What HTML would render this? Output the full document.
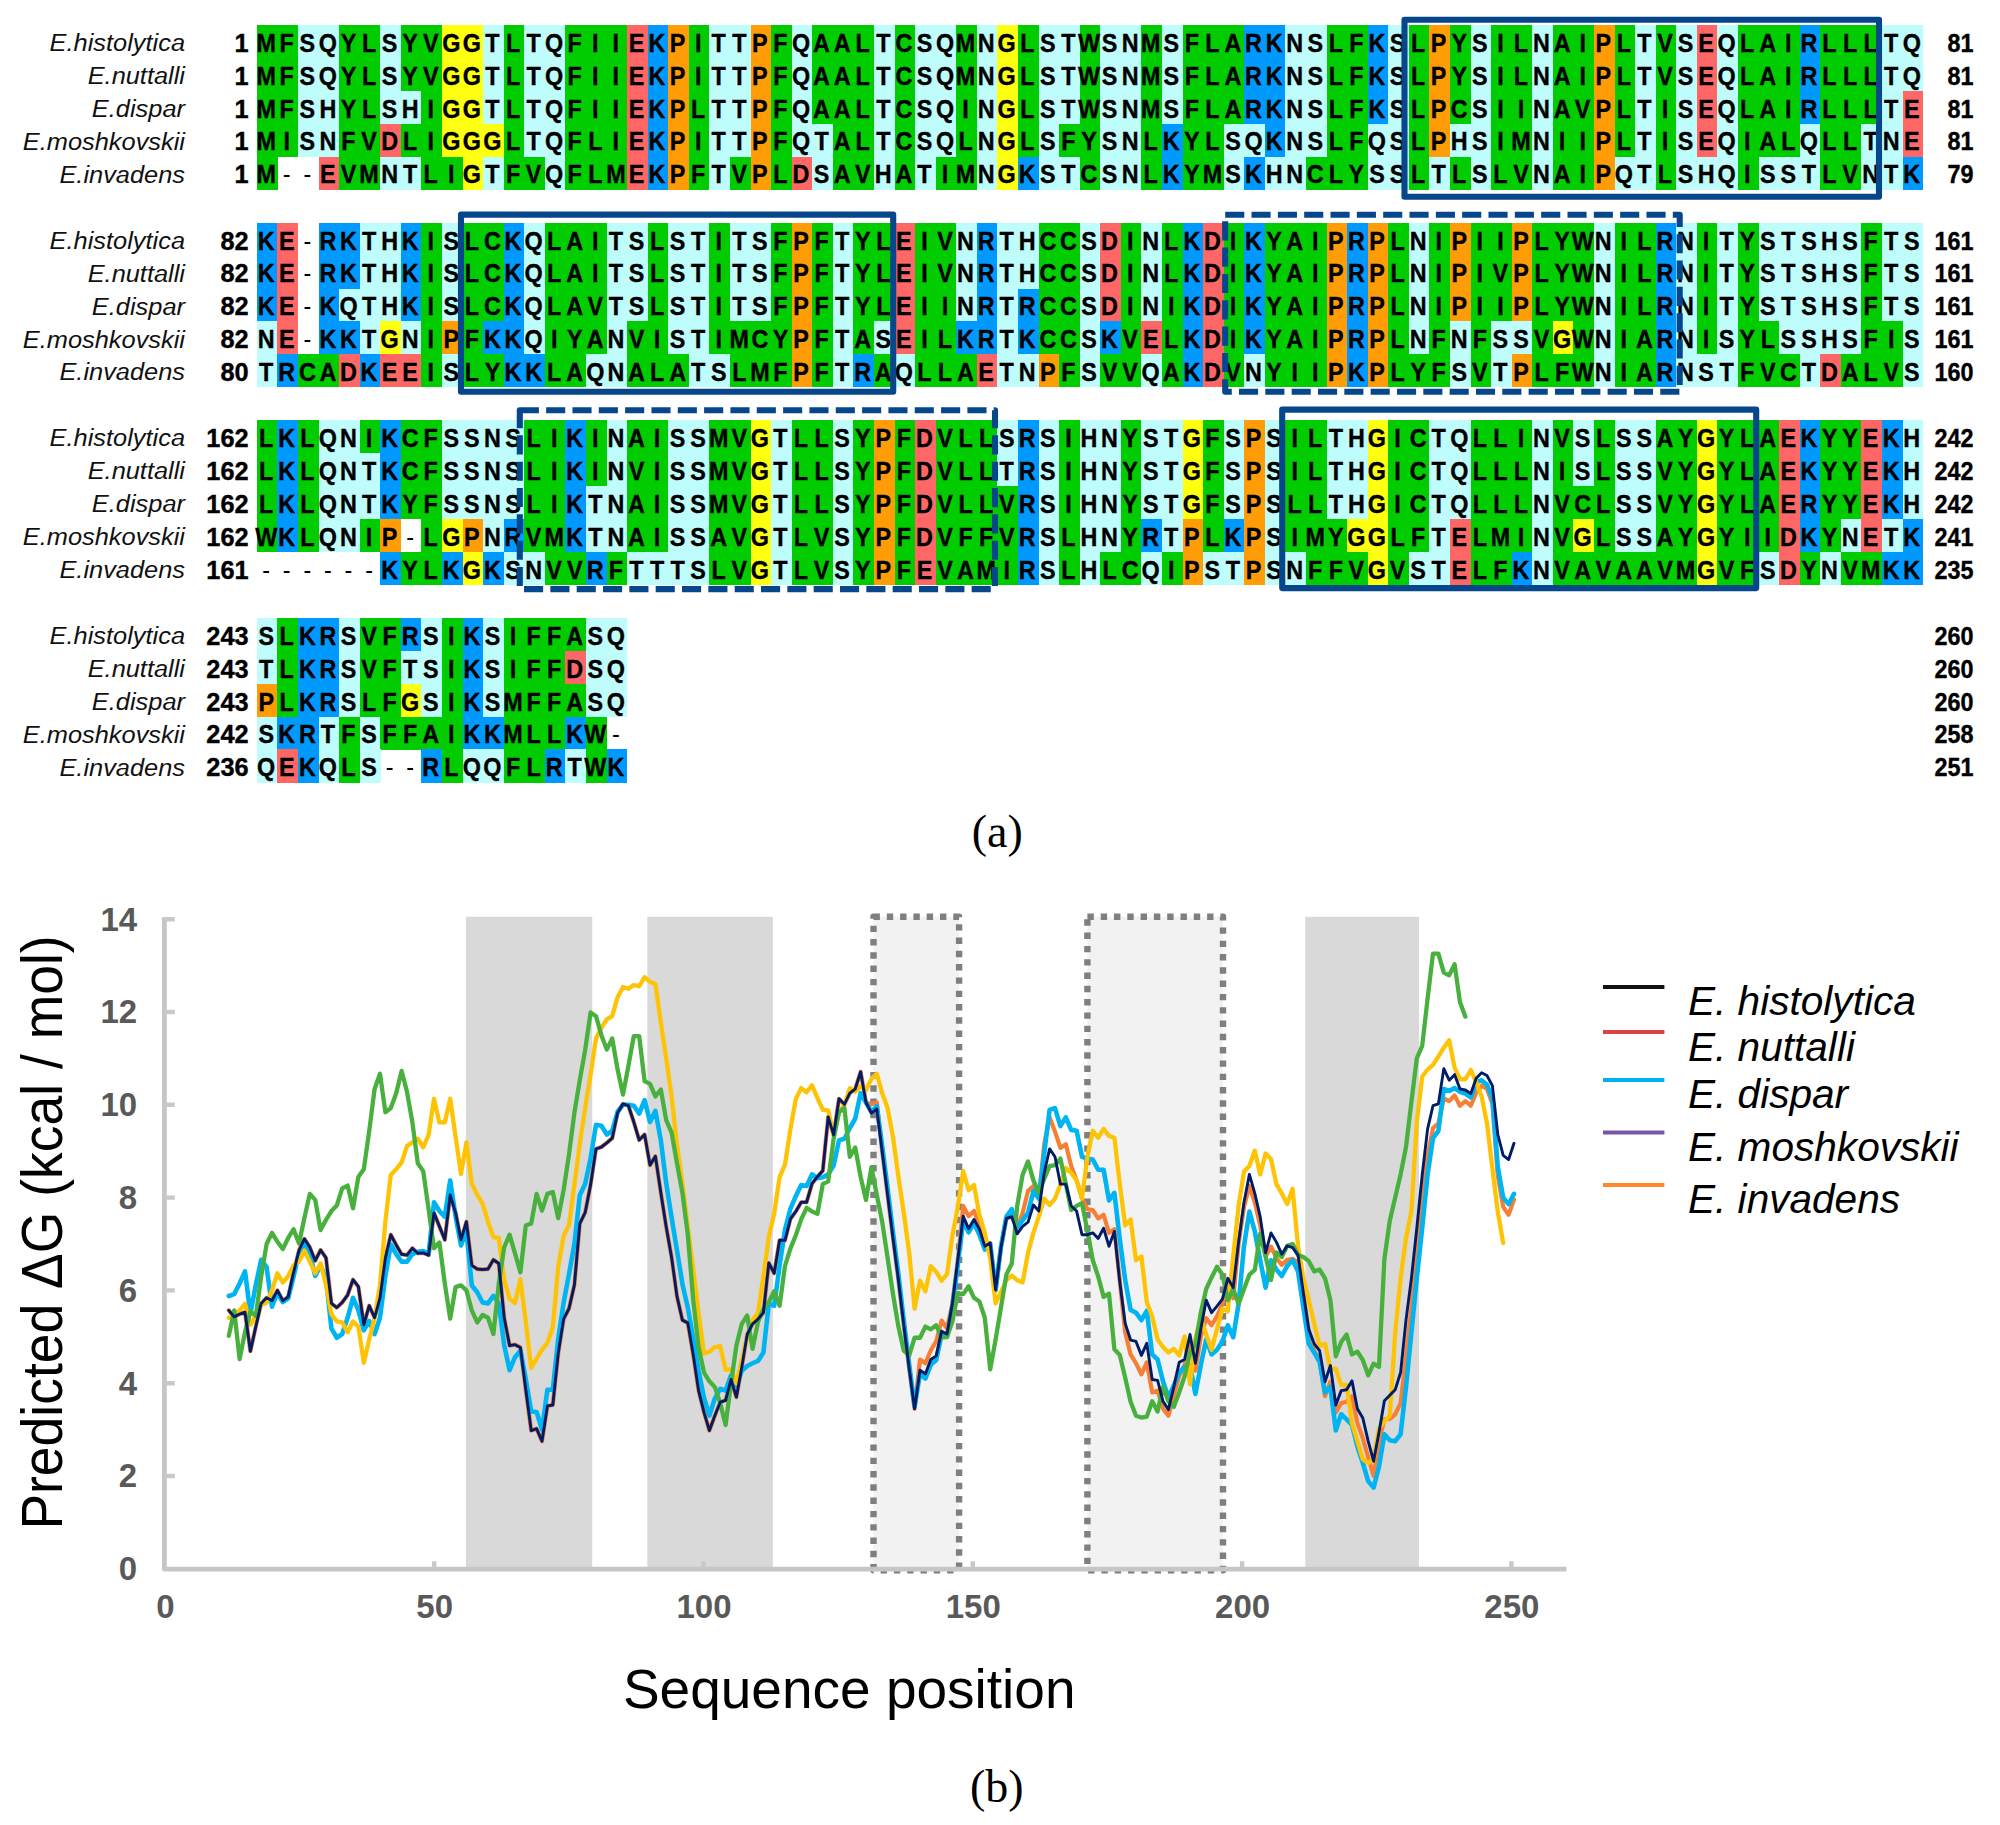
<!DOCTYPE html>
<html lang="en"><head><meta charset="utf-8"><title>Alignment and predicted ΔG</title>
<style>
html,body{margin:0;padding:0;background:#fff}
svg{display:block}
.sq{font-family:"Liberation Sans",Arial,sans-serif;font-weight:700;font-size:26.4px;fill:#000;text-anchor:middle;stroke:#000;stroke-width:.4px}
.gp{font-weight:400;stroke:none}
.nm{font-family:"Liberation Sans",Arial,sans-serif;font-style:italic;font-size:23.4px;fill:#111;text-anchor:end}
.nb{font-family:"Liberation Sans",Arial,sans-serif;font-weight:700;font-size:26.4px;fill:#000;text-anchor:end;stroke:#000;stroke-width:.4px}
.cap{font-family:"Liberation Serif","DejaVu Serif",serif;font-size:46px;fill:#000;text-anchor:middle}
.tk{font-family:"Liberation Sans",Arial,sans-serif;font-weight:700;font-size:33px;fill:#595959}
.ax{font-family:"Liberation Sans",Arial,sans-serif;font-size:55px;fill:#000;text-anchor:middle}
.lg{font-family:"Liberation Sans",Arial,sans-serif;font-style:italic;font-size:40.6px;fill:#000}
.box{fill:none;stroke:#05478a;stroke-width:6.1;stroke-linejoin:round}
.ln{fill:none;stroke-linejoin:round;stroke-linecap:round}
</style></head><body>
<svg width="2000" height="1825" viewBox="0 0 2000 1825">
<rect width="2000" height="1825" fill="#fff"/>
<g shape-rendering="crispEdges">
<rect x="256.9" y="25.1" width="41.44" height="33.17" fill="#00cc00"/>
<rect x="298.04" y="25.1" width="41.44" height="33.17" fill="#bffcfc"/>
<rect x="339.18" y="25.1" width="41.44" height="33.17" fill="#00cc00"/>
<rect x="380.32" y="25.1" width="20.87" height="33.17" fill="#bffcfc"/>
<rect x="400.89" y="25.1" width="41.44" height="33.17" fill="#00cc00"/>
<rect x="442.03" y="25.1" width="41.44" height="33.17" fill="#ffff10"/>
<rect x="483.17" y="25.1" width="20.87" height="33.17" fill="#bffcfc"/>
<rect x="503.74" y="25.1" width="20.87" height="33.17" fill="#00cc00"/>
<rect x="524.31" y="25.1" width="41.44" height="33.17" fill="#bffcfc"/>
<rect x="565.45" y="25.1" width="62.01" height="33.17" fill="#00cc00"/>
<rect x="627.16" y="25.1" width="20.87" height="33.17" fill="#ff6666"/>
<rect x="647.73" y="25.1" width="20.87" height="33.17" fill="#0099ff"/>
<rect x="668.3" y="25.1" width="20.87" height="33.17" fill="#ff9c06"/>
<rect x="688.87" y="25.1" width="20.87" height="33.17" fill="#00cc00"/>
<rect x="709.44" y="25.1" width="41.44" height="33.17" fill="#bffcfc"/>
<rect x="750.58" y="25.1" width="20.87" height="33.17" fill="#ff9c06"/>
<rect x="771.15" y="25.1" width="20.87" height="33.17" fill="#00cc00"/>
<rect x="791.72" y="25.1" width="20.87" height="33.17" fill="#bffcfc"/>
<rect x="812.29" y="25.1" width="62.01" height="33.17" fill="#00cc00"/>
<rect x="874" y="25.1" width="20.87" height="33.17" fill="#bffcfc"/>
<rect x="894.57" y="25.1" width="20.87" height="33.17" fill="#00cc00"/>
<rect x="915.14" y="25.1" width="41.44" height="33.17" fill="#bffcfc"/>
<rect x="956.28" y="25.1" width="20.87" height="33.17" fill="#00cc00"/>
<rect x="976.85" y="25.1" width="20.87" height="33.17" fill="#bffcfc"/>
<rect x="997.42" y="25.1" width="20.87" height="33.17" fill="#ffff10"/>
<rect x="1017.99" y="25.1" width="20.87" height="33.17" fill="#00cc00"/>
<rect x="1038.56" y="25.1" width="41.44" height="33.17" fill="#bffcfc"/>
<rect x="1079.7" y="25.1" width="20.87" height="33.17" fill="#00cc00"/>
<rect x="1100.27" y="25.1" width="41.44" height="33.17" fill="#bffcfc"/>
<rect x="1141.41" y="25.1" width="20.87" height="33.17" fill="#00cc00"/>
<rect x="1161.98" y="25.1" width="20.87" height="33.17" fill="#bffcfc"/>
<rect x="1182.55" y="25.1" width="62.01" height="33.17" fill="#00cc00"/>
<rect x="1244.26" y="25.1" width="41.44" height="33.17" fill="#0099ff"/>
<rect x="1285.4" y="25.1" width="41.44" height="33.17" fill="#bffcfc"/>
<rect x="1326.54" y="25.1" width="41.44" height="33.17" fill="#00cc00"/>
<rect x="1367.68" y="25.1" width="20.87" height="33.17" fill="#0099ff"/>
<rect x="1388.25" y="25.1" width="20.87" height="33.17" fill="#bffcfc"/>
<rect x="1408.82" y="25.1" width="20.87" height="33.17" fill="#00cc00"/>
<rect x="1429.39" y="25.1" width="20.87" height="33.17" fill="#ff9c06"/>
<rect x="1449.96" y="25.1" width="20.87" height="33.17" fill="#00cc00"/>
<rect x="1470.53" y="25.1" width="20.87" height="33.17" fill="#bffcfc"/>
<rect x="1491.1" y="25.1" width="41.44" height="33.17" fill="#00cc00"/>
<rect x="1532.24" y="25.1" width="20.87" height="33.17" fill="#bffcfc"/>
<rect x="1552.81" y="25.1" width="41.44" height="33.17" fill="#00cc00"/>
<rect x="1593.95" y="25.1" width="20.87" height="33.17" fill="#ff9c06"/>
<rect x="1614.52" y="25.1" width="20.87" height="33.17" fill="#00cc00"/>
<rect x="1635.09" y="25.1" width="20.87" height="33.17" fill="#bffcfc"/>
<rect x="1655.66" y="25.1" width="20.87" height="33.17" fill="#00cc00"/>
<rect x="1676.23" y="25.1" width="20.87" height="33.17" fill="#bffcfc"/>
<rect x="1696.8" y="25.1" width="20.87" height="33.17" fill="#ff6666"/>
<rect x="1717.37" y="25.1" width="20.87" height="33.17" fill="#bffcfc"/>
<rect x="1737.94" y="25.1" width="62.01" height="33.17" fill="#00cc00"/>
<rect x="1799.65" y="25.1" width="20.87" height="33.17" fill="#0099ff"/>
<rect x="1820.22" y="25.1" width="62.01" height="33.17" fill="#00cc00"/>
<rect x="1881.93" y="25.1" width="41.44" height="33.17" fill="#bffcfc"/>
<rect x="256.9" y="57.97" width="41.44" height="33.17" fill="#00cc00"/>
<rect x="298.04" y="57.97" width="41.44" height="33.17" fill="#bffcfc"/>
<rect x="339.18" y="57.97" width="41.44" height="33.17" fill="#00cc00"/>
<rect x="380.32" y="57.97" width="20.87" height="33.17" fill="#bffcfc"/>
<rect x="400.89" y="57.97" width="41.44" height="33.17" fill="#00cc00"/>
<rect x="442.03" y="57.97" width="41.44" height="33.17" fill="#ffff10"/>
<rect x="483.17" y="57.97" width="20.87" height="33.17" fill="#bffcfc"/>
<rect x="503.74" y="57.97" width="20.87" height="33.17" fill="#00cc00"/>
<rect x="524.31" y="57.97" width="41.44" height="33.17" fill="#bffcfc"/>
<rect x="565.45" y="57.97" width="62.01" height="33.17" fill="#00cc00"/>
<rect x="627.16" y="57.97" width="20.87" height="33.17" fill="#ff6666"/>
<rect x="647.73" y="57.97" width="20.87" height="33.17" fill="#0099ff"/>
<rect x="668.3" y="57.97" width="20.87" height="33.17" fill="#ff9c06"/>
<rect x="688.87" y="57.97" width="20.87" height="33.17" fill="#00cc00"/>
<rect x="709.44" y="57.97" width="41.44" height="33.17" fill="#bffcfc"/>
<rect x="750.58" y="57.97" width="20.87" height="33.17" fill="#ff9c06"/>
<rect x="771.15" y="57.97" width="20.87" height="33.17" fill="#00cc00"/>
<rect x="791.72" y="57.97" width="20.87" height="33.17" fill="#bffcfc"/>
<rect x="812.29" y="57.97" width="62.01" height="33.17" fill="#00cc00"/>
<rect x="874" y="57.97" width="20.87" height="33.17" fill="#bffcfc"/>
<rect x="894.57" y="57.97" width="20.87" height="33.17" fill="#00cc00"/>
<rect x="915.14" y="57.97" width="41.44" height="33.17" fill="#bffcfc"/>
<rect x="956.28" y="57.97" width="20.87" height="33.17" fill="#00cc00"/>
<rect x="976.85" y="57.97" width="20.87" height="33.17" fill="#bffcfc"/>
<rect x="997.42" y="57.97" width="20.87" height="33.17" fill="#ffff10"/>
<rect x="1017.99" y="57.97" width="20.87" height="33.17" fill="#00cc00"/>
<rect x="1038.56" y="57.97" width="41.44" height="33.17" fill="#bffcfc"/>
<rect x="1079.7" y="57.97" width="20.87" height="33.17" fill="#00cc00"/>
<rect x="1100.27" y="57.97" width="41.44" height="33.17" fill="#bffcfc"/>
<rect x="1141.41" y="57.97" width="20.87" height="33.17" fill="#00cc00"/>
<rect x="1161.98" y="57.97" width="20.87" height="33.17" fill="#bffcfc"/>
<rect x="1182.55" y="57.97" width="62.01" height="33.17" fill="#00cc00"/>
<rect x="1244.26" y="57.97" width="41.44" height="33.17" fill="#0099ff"/>
<rect x="1285.4" y="57.97" width="41.44" height="33.17" fill="#bffcfc"/>
<rect x="1326.54" y="57.97" width="41.44" height="33.17" fill="#00cc00"/>
<rect x="1367.68" y="57.97" width="20.87" height="33.17" fill="#0099ff"/>
<rect x="1388.25" y="57.97" width="20.87" height="33.17" fill="#bffcfc"/>
<rect x="1408.82" y="57.97" width="20.87" height="33.17" fill="#00cc00"/>
<rect x="1429.39" y="57.97" width="20.87" height="33.17" fill="#ff9c06"/>
<rect x="1449.96" y="57.97" width="20.87" height="33.17" fill="#00cc00"/>
<rect x="1470.53" y="57.97" width="20.87" height="33.17" fill="#bffcfc"/>
<rect x="1491.1" y="57.97" width="41.44" height="33.17" fill="#00cc00"/>
<rect x="1532.24" y="57.97" width="20.87" height="33.17" fill="#bffcfc"/>
<rect x="1552.81" y="57.97" width="41.44" height="33.17" fill="#00cc00"/>
<rect x="1593.95" y="57.97" width="20.87" height="33.17" fill="#ff9c06"/>
<rect x="1614.52" y="57.97" width="20.87" height="33.17" fill="#00cc00"/>
<rect x="1635.09" y="57.97" width="20.87" height="33.17" fill="#bffcfc"/>
<rect x="1655.66" y="57.97" width="20.87" height="33.17" fill="#00cc00"/>
<rect x="1676.23" y="57.97" width="20.87" height="33.17" fill="#bffcfc"/>
<rect x="1696.8" y="57.97" width="20.87" height="33.17" fill="#ff6666"/>
<rect x="1717.37" y="57.97" width="20.87" height="33.17" fill="#bffcfc"/>
<rect x="1737.94" y="57.97" width="62.01" height="33.17" fill="#00cc00"/>
<rect x="1799.65" y="57.97" width="20.87" height="33.17" fill="#0099ff"/>
<rect x="1820.22" y="57.97" width="62.01" height="33.17" fill="#00cc00"/>
<rect x="1881.93" y="57.97" width="41.44" height="33.17" fill="#bffcfc"/>
<rect x="256.9" y="90.84" width="41.44" height="33.17" fill="#00cc00"/>
<rect x="298.04" y="90.84" width="41.44" height="33.17" fill="#bffcfc"/>
<rect x="339.18" y="90.84" width="41.44" height="33.17" fill="#00cc00"/>
<rect x="380.32" y="90.84" width="41.44" height="33.17" fill="#bffcfc"/>
<rect x="421.46" y="90.84" width="20.87" height="33.17" fill="#00cc00"/>
<rect x="442.03" y="90.84" width="41.44" height="33.17" fill="#ffff10"/>
<rect x="483.17" y="90.84" width="20.87" height="33.17" fill="#bffcfc"/>
<rect x="503.74" y="90.84" width="20.87" height="33.17" fill="#00cc00"/>
<rect x="524.31" y="90.84" width="41.44" height="33.17" fill="#bffcfc"/>
<rect x="565.45" y="90.84" width="62.01" height="33.17" fill="#00cc00"/>
<rect x="627.16" y="90.84" width="20.87" height="33.17" fill="#ff6666"/>
<rect x="647.73" y="90.84" width="20.87" height="33.17" fill="#0099ff"/>
<rect x="668.3" y="90.84" width="20.87" height="33.17" fill="#ff9c06"/>
<rect x="688.87" y="90.84" width="20.87" height="33.17" fill="#00cc00"/>
<rect x="709.44" y="90.84" width="41.44" height="33.17" fill="#bffcfc"/>
<rect x="750.58" y="90.84" width="20.87" height="33.17" fill="#ff9c06"/>
<rect x="771.15" y="90.84" width="20.87" height="33.17" fill="#00cc00"/>
<rect x="791.72" y="90.84" width="20.87" height="33.17" fill="#bffcfc"/>
<rect x="812.29" y="90.84" width="62.01" height="33.17" fill="#00cc00"/>
<rect x="874" y="90.84" width="20.87" height="33.17" fill="#bffcfc"/>
<rect x="894.57" y="90.84" width="20.87" height="33.17" fill="#00cc00"/>
<rect x="915.14" y="90.84" width="41.44" height="33.17" fill="#bffcfc"/>
<rect x="956.28" y="90.84" width="20.87" height="33.17" fill="#00cc00"/>
<rect x="976.85" y="90.84" width="20.87" height="33.17" fill="#bffcfc"/>
<rect x="997.42" y="90.84" width="20.87" height="33.17" fill="#ffff10"/>
<rect x="1017.99" y="90.84" width="20.87" height="33.17" fill="#00cc00"/>
<rect x="1038.56" y="90.84" width="41.44" height="33.17" fill="#bffcfc"/>
<rect x="1079.7" y="90.84" width="20.87" height="33.17" fill="#00cc00"/>
<rect x="1100.27" y="90.84" width="41.44" height="33.17" fill="#bffcfc"/>
<rect x="1141.41" y="90.84" width="20.87" height="33.17" fill="#00cc00"/>
<rect x="1161.98" y="90.84" width="20.87" height="33.17" fill="#bffcfc"/>
<rect x="1182.55" y="90.84" width="62.01" height="33.17" fill="#00cc00"/>
<rect x="1244.26" y="90.84" width="41.44" height="33.17" fill="#0099ff"/>
<rect x="1285.4" y="90.84" width="41.44" height="33.17" fill="#bffcfc"/>
<rect x="1326.54" y="90.84" width="41.44" height="33.17" fill="#00cc00"/>
<rect x="1367.68" y="90.84" width="20.87" height="33.17" fill="#0099ff"/>
<rect x="1388.25" y="90.84" width="20.87" height="33.17" fill="#bffcfc"/>
<rect x="1408.82" y="90.84" width="20.87" height="33.17" fill="#00cc00"/>
<rect x="1429.39" y="90.84" width="20.87" height="33.17" fill="#ff9c06"/>
<rect x="1449.96" y="90.84" width="20.87" height="33.17" fill="#00cc00"/>
<rect x="1470.53" y="90.84" width="20.87" height="33.17" fill="#bffcfc"/>
<rect x="1491.1" y="90.84" width="41.44" height="33.17" fill="#00cc00"/>
<rect x="1532.24" y="90.84" width="20.87" height="33.17" fill="#bffcfc"/>
<rect x="1552.81" y="90.84" width="41.44" height="33.17" fill="#00cc00"/>
<rect x="1593.95" y="90.84" width="20.87" height="33.17" fill="#ff9c06"/>
<rect x="1614.52" y="90.84" width="20.87" height="33.17" fill="#00cc00"/>
<rect x="1635.09" y="90.84" width="20.87" height="33.17" fill="#bffcfc"/>
<rect x="1655.66" y="90.84" width="20.87" height="33.17" fill="#00cc00"/>
<rect x="1676.23" y="90.84" width="20.87" height="33.17" fill="#bffcfc"/>
<rect x="1696.8" y="90.84" width="20.87" height="33.17" fill="#ff6666"/>
<rect x="1717.37" y="90.84" width="20.87" height="33.17" fill="#bffcfc"/>
<rect x="1737.94" y="90.84" width="62.01" height="33.17" fill="#00cc00"/>
<rect x="1799.65" y="90.84" width="20.87" height="33.17" fill="#0099ff"/>
<rect x="1820.22" y="90.84" width="62.01" height="33.17" fill="#00cc00"/>
<rect x="1881.93" y="90.84" width="20.87" height="33.17" fill="#bffcfc"/>
<rect x="1902.5" y="90.84" width="20.87" height="33.17" fill="#ff6666"/>
<rect x="256.9" y="123.71" width="41.44" height="33.17" fill="#00cc00"/>
<rect x="298.04" y="123.71" width="41.44" height="33.17" fill="#bffcfc"/>
<rect x="339.18" y="123.71" width="41.44" height="33.17" fill="#00cc00"/>
<rect x="380.32" y="123.71" width="20.87" height="33.17" fill="#ff6666"/>
<rect x="400.89" y="123.71" width="41.44" height="33.17" fill="#00cc00"/>
<rect x="442.03" y="123.71" width="62.01" height="33.17" fill="#ffff10"/>
<rect x="503.74" y="123.71" width="20.87" height="33.17" fill="#00cc00"/>
<rect x="524.31" y="123.71" width="41.44" height="33.17" fill="#bffcfc"/>
<rect x="565.45" y="123.71" width="62.01" height="33.17" fill="#00cc00"/>
<rect x="627.16" y="123.71" width="20.87" height="33.17" fill="#ff6666"/>
<rect x="647.73" y="123.71" width="20.87" height="33.17" fill="#0099ff"/>
<rect x="668.3" y="123.71" width="20.87" height="33.17" fill="#ff9c06"/>
<rect x="688.87" y="123.71" width="20.87" height="33.17" fill="#00cc00"/>
<rect x="709.44" y="123.71" width="41.44" height="33.17" fill="#bffcfc"/>
<rect x="750.58" y="123.71" width="20.87" height="33.17" fill="#ff9c06"/>
<rect x="771.15" y="123.71" width="20.87" height="33.17" fill="#00cc00"/>
<rect x="791.72" y="123.71" width="41.44" height="33.17" fill="#bffcfc"/>
<rect x="832.86" y="123.71" width="41.44" height="33.17" fill="#00cc00"/>
<rect x="874" y="123.71" width="20.87" height="33.17" fill="#bffcfc"/>
<rect x="894.57" y="123.71" width="20.87" height="33.17" fill="#00cc00"/>
<rect x="915.14" y="123.71" width="41.44" height="33.17" fill="#bffcfc"/>
<rect x="956.28" y="123.71" width="20.87" height="33.17" fill="#00cc00"/>
<rect x="976.85" y="123.71" width="20.87" height="33.17" fill="#bffcfc"/>
<rect x="997.42" y="123.71" width="20.87" height="33.17" fill="#ffff10"/>
<rect x="1017.99" y="123.71" width="20.87" height="33.17" fill="#00cc00"/>
<rect x="1038.56" y="123.71" width="20.87" height="33.17" fill="#bffcfc"/>
<rect x="1059.13" y="123.71" width="41.44" height="33.17" fill="#00cc00"/>
<rect x="1100.27" y="123.71" width="41.44" height="33.17" fill="#bffcfc"/>
<rect x="1141.41" y="123.71" width="20.87" height="33.17" fill="#00cc00"/>
<rect x="1161.98" y="123.71" width="20.87" height="33.17" fill="#0099ff"/>
<rect x="1182.55" y="123.71" width="41.44" height="33.17" fill="#00cc00"/>
<rect x="1223.69" y="123.71" width="41.44" height="33.17" fill="#bffcfc"/>
<rect x="1264.83" y="123.71" width="20.87" height="33.17" fill="#0099ff"/>
<rect x="1285.4" y="123.71" width="41.44" height="33.17" fill="#bffcfc"/>
<rect x="1326.54" y="123.71" width="41.44" height="33.17" fill="#00cc00"/>
<rect x="1367.68" y="123.71" width="41.44" height="33.17" fill="#bffcfc"/>
<rect x="1408.82" y="123.71" width="20.87" height="33.17" fill="#00cc00"/>
<rect x="1429.39" y="123.71" width="20.87" height="33.17" fill="#ff9c06"/>
<rect x="1449.96" y="123.71" width="41.44" height="33.17" fill="#bffcfc"/>
<rect x="1491.1" y="123.71" width="41.44" height="33.17" fill="#00cc00"/>
<rect x="1532.24" y="123.71" width="20.87" height="33.17" fill="#bffcfc"/>
<rect x="1552.81" y="123.71" width="41.44" height="33.17" fill="#00cc00"/>
<rect x="1593.95" y="123.71" width="20.87" height="33.17" fill="#ff9c06"/>
<rect x="1614.52" y="123.71" width="20.87" height="33.17" fill="#00cc00"/>
<rect x="1635.09" y="123.71" width="20.87" height="33.17" fill="#bffcfc"/>
<rect x="1655.66" y="123.71" width="20.87" height="33.17" fill="#00cc00"/>
<rect x="1676.23" y="123.71" width="20.87" height="33.17" fill="#bffcfc"/>
<rect x="1696.8" y="123.71" width="20.87" height="33.17" fill="#ff6666"/>
<rect x="1717.37" y="123.71" width="20.87" height="33.17" fill="#bffcfc"/>
<rect x="1737.94" y="123.71" width="62.01" height="33.17" fill="#00cc00"/>
<rect x="1799.65" y="123.71" width="20.87" height="33.17" fill="#bffcfc"/>
<rect x="1820.22" y="123.71" width="41.44" height="33.17" fill="#00cc00"/>
<rect x="1861.36" y="123.71" width="41.44" height="33.17" fill="#bffcfc"/>
<rect x="1902.5" y="123.71" width="20.87" height="33.17" fill="#ff6666"/>
<rect x="256.9" y="156.58" width="20.87" height="33.17" fill="#00cc00"/>
<rect x="318.61" y="156.58" width="20.87" height="33.17" fill="#ff6666"/>
<rect x="339.18" y="156.58" width="41.44" height="33.17" fill="#00cc00"/>
<rect x="380.32" y="156.58" width="41.44" height="33.17" fill="#bffcfc"/>
<rect x="421.46" y="156.58" width="41.44" height="33.17" fill="#00cc00"/>
<rect x="462.6" y="156.58" width="20.87" height="33.17" fill="#ffff10"/>
<rect x="483.17" y="156.58" width="20.87" height="33.17" fill="#bffcfc"/>
<rect x="503.74" y="156.58" width="41.44" height="33.17" fill="#00cc00"/>
<rect x="544.88" y="156.58" width="20.87" height="33.17" fill="#bffcfc"/>
<rect x="565.45" y="156.58" width="62.01" height="33.17" fill="#00cc00"/>
<rect x="627.16" y="156.58" width="20.87" height="33.17" fill="#ff6666"/>
<rect x="647.73" y="156.58" width="20.87" height="33.17" fill="#0099ff"/>
<rect x="668.3" y="156.58" width="20.87" height="33.17" fill="#ff9c06"/>
<rect x="688.87" y="156.58" width="20.87" height="33.17" fill="#00cc00"/>
<rect x="709.44" y="156.58" width="20.87" height="33.17" fill="#bffcfc"/>
<rect x="730.01" y="156.58" width="20.87" height="33.17" fill="#00cc00"/>
<rect x="750.58" y="156.58" width="20.87" height="33.17" fill="#ff9c06"/>
<rect x="771.15" y="156.58" width="20.87" height="33.17" fill="#00cc00"/>
<rect x="791.72" y="156.58" width="20.87" height="33.17" fill="#ff6666"/>
<rect x="812.29" y="156.58" width="20.87" height="33.17" fill="#bffcfc"/>
<rect x="832.86" y="156.58" width="41.44" height="33.17" fill="#00cc00"/>
<rect x="874" y="156.58" width="20.87" height="33.17" fill="#bffcfc"/>
<rect x="894.57" y="156.58" width="20.87" height="33.17" fill="#00cc00"/>
<rect x="915.14" y="156.58" width="20.87" height="33.17" fill="#bffcfc"/>
<rect x="935.71" y="156.58" width="41.44" height="33.17" fill="#00cc00"/>
<rect x="976.85" y="156.58" width="20.87" height="33.17" fill="#bffcfc"/>
<rect x="997.42" y="156.58" width="20.87" height="33.17" fill="#ffff10"/>
<rect x="1017.99" y="156.58" width="20.87" height="33.17" fill="#0099ff"/>
<rect x="1038.56" y="156.58" width="41.44" height="33.17" fill="#bffcfc"/>
<rect x="1079.7" y="156.58" width="20.87" height="33.17" fill="#00cc00"/>
<rect x="1100.27" y="156.58" width="41.44" height="33.17" fill="#bffcfc"/>
<rect x="1141.41" y="156.58" width="20.87" height="33.17" fill="#00cc00"/>
<rect x="1161.98" y="156.58" width="20.87" height="33.17" fill="#0099ff"/>
<rect x="1182.55" y="156.58" width="41.44" height="33.17" fill="#00cc00"/>
<rect x="1223.69" y="156.58" width="20.87" height="33.17" fill="#bffcfc"/>
<rect x="1244.26" y="156.58" width="20.87" height="33.17" fill="#0099ff"/>
<rect x="1264.83" y="156.58" width="41.44" height="33.17" fill="#bffcfc"/>
<rect x="1305.97" y="156.58" width="62.01" height="33.17" fill="#00cc00"/>
<rect x="1367.68" y="156.58" width="41.44" height="33.17" fill="#bffcfc"/>
<rect x="1408.82" y="156.58" width="20.87" height="33.17" fill="#00cc00"/>
<rect x="1429.39" y="156.58" width="20.87" height="33.17" fill="#bffcfc"/>
<rect x="1449.96" y="156.58" width="20.87" height="33.17" fill="#00cc00"/>
<rect x="1470.53" y="156.58" width="20.87" height="33.17" fill="#bffcfc"/>
<rect x="1491.1" y="156.58" width="41.44" height="33.17" fill="#00cc00"/>
<rect x="1532.24" y="156.58" width="20.87" height="33.17" fill="#bffcfc"/>
<rect x="1552.81" y="156.58" width="41.44" height="33.17" fill="#00cc00"/>
<rect x="1593.95" y="156.58" width="20.87" height="33.17" fill="#ff9c06"/>
<rect x="1614.52" y="156.58" width="41.44" height="33.17" fill="#bffcfc"/>
<rect x="1655.66" y="156.58" width="20.87" height="33.17" fill="#00cc00"/>
<rect x="1676.23" y="156.58" width="62.01" height="33.17" fill="#bffcfc"/>
<rect x="1737.94" y="156.58" width="20.87" height="33.17" fill="#00cc00"/>
<rect x="1758.51" y="156.58" width="62.01" height="33.17" fill="#bffcfc"/>
<rect x="1820.22" y="156.58" width="41.44" height="33.17" fill="#00cc00"/>
<rect x="1861.36" y="156.58" width="41.44" height="33.17" fill="#bffcfc"/>
<rect x="1902.5" y="156.58" width="20.87" height="33.17" fill="#0099ff"/>
</g><g>
<text class="nm" x="185" y="51.2" transform="translate(185 0) scale(1.085 1) translate(-185 0)">E.histolytica</text>
<text class="nb" x="248.6" y="51.9" transform="translate(248.6 0) scale(0.96 1) translate(-248.6 0)">1</text>
<text class="sq" transform="scale(0.885 1)" y="51.9" x="300.77 324.02 347.26 370.5 393.75 416.99 440.23 463.47 486.72 509.96 533.2 556.45 579.69 602.93 626.18 649.42 672.66 695.9 719.15 742.39 765.63 788.88 812.12 835.36 858.6 881.85 905.09 928.33 951.58 974.82 998.06 1021.31 1044.55 1067.79 1091.03 1114.28 1137.52 1160.76 1184.01 1207.25 1230.49 1253.73 1276.98 1300.22 1323.46 1346.71 1369.95 1393.19 1416.44 1439.68 1462.92 1486.16 1509.41 1532.65 1555.89 1579.14 1602.38 1625.62 1648.86 1672.11 1695.35 1718.59 1741.84 1765.08 1788.32 1811.56 1834.81 1858.05 1881.29 1904.54 1927.78 1951.02 1974.27 1997.51 2020.75 2043.99 2067.24 2090.48 2113.72 2136.97 2160.21">MFSQYLSYVGGTLTQFIIEKPITTPFQAALTCSQMNGLSTWSNMSFLARKNSLFKSLPYSILNAIPLTVSEQLAIRLLLTQ</text>
<text class="nb" x="1973.5" y="51.9" transform="translate(1973.5 0) scale(0.885 1) translate(-1973.5 0)">81</text>
<text class="nm" x="185" y="84.07" transform="translate(185 0) scale(1.085 1) translate(-185 0)">E.nuttalli</text>
<text class="nb" x="248.6" y="84.77" transform="translate(248.6 0) scale(0.96 1) translate(-248.6 0)">1</text>
<text class="sq" transform="scale(0.885 1)" y="84.77" x="300.77 324.02 347.26 370.5 393.75 416.99 440.23 463.47 486.72 509.96 533.2 556.45 579.69 602.93 626.18 649.42 672.66 695.9 719.15 742.39 765.63 788.88 812.12 835.36 858.6 881.85 905.09 928.33 951.58 974.82 998.06 1021.31 1044.55 1067.79 1091.03 1114.28 1137.52 1160.76 1184.01 1207.25 1230.49 1253.73 1276.98 1300.22 1323.46 1346.71 1369.95 1393.19 1416.44 1439.68 1462.92 1486.16 1509.41 1532.65 1555.89 1579.14 1602.38 1625.62 1648.86 1672.11 1695.35 1718.59 1741.84 1765.08 1788.32 1811.56 1834.81 1858.05 1881.29 1904.54 1927.78 1951.02 1974.27 1997.51 2020.75 2043.99 2067.24 2090.48 2113.72 2136.97 2160.21">MFSQYLSYVGGTLTQFIIEKPITTPFQAALTCSQMNGLSTWSNMSFLARKNSLFKSLPYSILNAIPLTVSEQLAIRLLLTQ</text>
<text class="nb" x="1973.5" y="84.77" transform="translate(1973.5 0) scale(0.885 1) translate(-1973.5 0)">81</text>
<text class="nm" x="185" y="116.94" transform="translate(185 0) scale(1.085 1) translate(-185 0)">E.dispar</text>
<text class="nb" x="248.6" y="117.64" transform="translate(248.6 0) scale(0.96 1) translate(-248.6 0)">1</text>
<text class="sq" transform="scale(0.885 1)" y="117.64" x="300.77 324.02 347.26 370.5 393.75 416.99 440.23 463.47 486.72 509.96 533.2 556.45 579.69 602.93 626.18 649.42 672.66 695.9 719.15 742.39 765.63 788.88 812.12 835.36 858.6 881.85 905.09 928.33 951.58 974.82 998.06 1021.31 1044.55 1067.79 1091.03 1114.28 1137.52 1160.76 1184.01 1207.25 1230.49 1253.73 1276.98 1300.22 1323.46 1346.71 1369.95 1393.19 1416.44 1439.68 1462.92 1486.16 1509.41 1532.65 1555.89 1579.14 1602.38 1625.62 1648.86 1672.11 1695.35 1718.59 1741.84 1765.08 1788.32 1811.56 1834.81 1858.05 1881.29 1904.54 1927.78 1951.02 1974.27 1997.51 2020.75 2043.99 2067.24 2090.48 2113.72 2136.97 2160.21">MFSHYLSHIGGTLTQFIIEKPLTTPFQAALTCSQINGLSTWSNMSFLARKNSLFKSLPCSIINAVPLTISEQLAIRLLLTE</text>
<text class="nb" x="1973.5" y="117.64" transform="translate(1973.5 0) scale(0.885 1) translate(-1973.5 0)">81</text>
<text class="nm" x="185" y="149.81" transform="translate(185 0) scale(1.085 1) translate(-185 0)">E.moshkovskii</text>
<text class="nb" x="248.6" y="150.51" transform="translate(248.6 0) scale(0.96 1) translate(-248.6 0)">1</text>
<text class="sq" transform="scale(0.885 1)" y="150.51" x="300.77 324.02 347.26 370.5 393.75 416.99 440.23 463.47 486.72 509.96 533.2 556.45 579.69 602.93 626.18 649.42 672.66 695.9 719.15 742.39 765.63 788.88 812.12 835.36 858.6 881.85 905.09 928.33 951.58 974.82 998.06 1021.31 1044.55 1067.79 1091.03 1114.28 1137.52 1160.76 1184.01 1207.25 1230.49 1253.73 1276.98 1300.22 1323.46 1346.71 1369.95 1393.19 1416.44 1439.68 1462.92 1486.16 1509.41 1532.65 1555.89 1579.14 1602.38 1625.62 1648.86 1672.11 1695.35 1718.59 1741.84 1765.08 1788.32 1811.56 1834.81 1858.05 1881.29 1904.54 1927.78 1951.02 1974.27 1997.51 2020.75 2043.99 2067.24 2090.48 2113.72 2136.97 2160.21">MISNFVDLIGGGLTQFLIEKPITTPFQTALTCSQLNGLSFYSNLKYLSQKNSLFQSLPHSIMNIIPLTISEQIALQLLTNE</text>
<text class="nb" x="1973.5" y="150.51" transform="translate(1973.5 0) scale(0.885 1) translate(-1973.5 0)">81</text>
<text class="nm" x="185" y="182.68" transform="translate(185 0) scale(1.085 1) translate(-185 0)">E.invadens</text>
<text class="nb" x="248.6" y="183.38" transform="translate(248.6 0) scale(0.96 1) translate(-248.6 0)">1</text>
<text class="sq" transform="scale(0.885 1)" y="183.38" x="300.77 324.02 347.26 370.5 393.75 416.99 440.23 463.47 486.72 509.96 533.2 556.45 579.69 602.93 626.18 649.42 672.66 695.9 719.15 742.39 765.63 788.88 812.12 835.36 858.6 881.85 905.09 928.33 951.58 974.82 998.06 1021.31 1044.55 1067.79 1091.03 1114.28 1137.52 1160.76 1184.01 1207.25 1230.49 1253.73 1276.98 1300.22 1323.46 1346.71 1369.95 1393.19 1416.44 1439.68 1462.92 1486.16 1509.41 1532.65 1555.89 1579.14 1602.38 1625.62 1648.86 1672.11 1695.35 1718.59 1741.84 1765.08 1788.32 1811.56 1834.81 1858.05 1881.29 1904.54 1927.78 1951.02 1974.27 1997.51 2020.75 2043.99 2067.24 2090.48 2113.72 2136.97 2160.21">M<tspan class="gp">--</tspan>EVMNTLIGTFVQFLMEKPFTVPLDSAVHATIMNGKSTCSNLKYMSKHNCLYSSLTLSLVNAIPQTLSHQISSTLVNTK</text>
<text class="nb" x="1973.5" y="183.38" transform="translate(1973.5 0) scale(0.885 1) translate(-1973.5 0)">79</text>
</g>
<g shape-rendering="crispEdges">
<rect x="256.9" y="222.8" width="20.87" height="33.17" fill="#0099ff"/>
<rect x="277.47" y="222.8" width="20.87" height="33.17" fill="#ff6666"/>
<rect x="318.61" y="222.8" width="41.44" height="33.17" fill="#0099ff"/>
<rect x="359.75" y="222.8" width="41.44" height="33.17" fill="#bffcfc"/>
<rect x="400.89" y="222.8" width="20.87" height="33.17" fill="#0099ff"/>
<rect x="421.46" y="222.8" width="20.87" height="33.17" fill="#00cc00"/>
<rect x="442.03" y="222.8" width="20.87" height="33.17" fill="#bffcfc"/>
<rect x="462.6" y="222.8" width="41.44" height="33.17" fill="#00cc00"/>
<rect x="503.74" y="222.8" width="20.87" height="33.17" fill="#0099ff"/>
<rect x="524.31" y="222.8" width="20.87" height="33.17" fill="#bffcfc"/>
<rect x="544.88" y="222.8" width="62.01" height="33.17" fill="#00cc00"/>
<rect x="606.59" y="222.8" width="41.44" height="33.17" fill="#bffcfc"/>
<rect x="647.73" y="222.8" width="20.87" height="33.17" fill="#00cc00"/>
<rect x="668.3" y="222.8" width="41.44" height="33.17" fill="#bffcfc"/>
<rect x="709.44" y="222.8" width="20.87" height="33.17" fill="#00cc00"/>
<rect x="730.01" y="222.8" width="41.44" height="33.17" fill="#bffcfc"/>
<rect x="771.15" y="222.8" width="20.87" height="33.17" fill="#00cc00"/>
<rect x="791.72" y="222.8" width="20.87" height="33.17" fill="#ff9c06"/>
<rect x="812.29" y="222.8" width="20.87" height="33.17" fill="#00cc00"/>
<rect x="832.86" y="222.8" width="20.87" height="33.17" fill="#bffcfc"/>
<rect x="853.43" y="222.8" width="41.44" height="33.17" fill="#00cc00"/>
<rect x="894.57" y="222.8" width="20.87" height="33.17" fill="#ff6666"/>
<rect x="915.14" y="222.8" width="41.44" height="33.17" fill="#00cc00"/>
<rect x="956.28" y="222.8" width="20.87" height="33.17" fill="#bffcfc"/>
<rect x="976.85" y="222.8" width="20.87" height="33.17" fill="#0099ff"/>
<rect x="997.42" y="222.8" width="41.44" height="33.17" fill="#bffcfc"/>
<rect x="1038.56" y="222.8" width="41.44" height="33.17" fill="#00cc00"/>
<rect x="1079.7" y="222.8" width="20.87" height="33.17" fill="#bffcfc"/>
<rect x="1100.27" y="222.8" width="20.87" height="33.17" fill="#ff6666"/>
<rect x="1120.84" y="222.8" width="20.87" height="33.17" fill="#00cc00"/>
<rect x="1141.41" y="222.8" width="20.87" height="33.17" fill="#bffcfc"/>
<rect x="1161.98" y="222.8" width="20.87" height="33.17" fill="#00cc00"/>
<rect x="1182.55" y="222.8" width="20.87" height="33.17" fill="#0099ff"/>
<rect x="1203.12" y="222.8" width="20.87" height="33.17" fill="#ff6666"/>
<rect x="1223.69" y="222.8" width="20.87" height="33.17" fill="#00cc00"/>
<rect x="1244.26" y="222.8" width="20.87" height="33.17" fill="#0099ff"/>
<rect x="1264.83" y="222.8" width="62.01" height="33.17" fill="#00cc00"/>
<rect x="1326.54" y="222.8" width="20.87" height="33.17" fill="#ff9c06"/>
<rect x="1347.11" y="222.8" width="20.87" height="33.17" fill="#0099ff"/>
<rect x="1367.68" y="222.8" width="20.87" height="33.17" fill="#ff9c06"/>
<rect x="1388.25" y="222.8" width="20.87" height="33.17" fill="#00cc00"/>
<rect x="1408.82" y="222.8" width="20.87" height="33.17" fill="#bffcfc"/>
<rect x="1429.39" y="222.8" width="20.87" height="33.17" fill="#00cc00"/>
<rect x="1449.96" y="222.8" width="20.87" height="33.17" fill="#ff9c06"/>
<rect x="1470.53" y="222.8" width="41.44" height="33.17" fill="#00cc00"/>
<rect x="1511.67" y="222.8" width="20.87" height="33.17" fill="#ff9c06"/>
<rect x="1532.24" y="222.8" width="62.01" height="33.17" fill="#00cc00"/>
<rect x="1593.95" y="222.8" width="20.87" height="33.17" fill="#bffcfc"/>
<rect x="1614.52" y="222.8" width="41.44" height="33.17" fill="#00cc00"/>
<rect x="1655.66" y="222.8" width="20.87" height="33.17" fill="#0099ff"/>
<rect x="1676.23" y="222.8" width="20.87" height="33.17" fill="#bffcfc"/>
<rect x="1696.8" y="222.8" width="20.87" height="33.17" fill="#00cc00"/>
<rect x="1717.37" y="222.8" width="20.87" height="33.17" fill="#bffcfc"/>
<rect x="1737.94" y="222.8" width="20.87" height="33.17" fill="#00cc00"/>
<rect x="1758.51" y="222.8" width="103.15" height="33.17" fill="#bffcfc"/>
<rect x="1861.36" y="222.8" width="20.87" height="33.17" fill="#00cc00"/>
<rect x="1881.93" y="222.8" width="41.44" height="33.17" fill="#bffcfc"/>
<rect x="256.9" y="255.67" width="20.87" height="33.17" fill="#0099ff"/>
<rect x="277.47" y="255.67" width="20.87" height="33.17" fill="#ff6666"/>
<rect x="318.61" y="255.67" width="41.44" height="33.17" fill="#0099ff"/>
<rect x="359.75" y="255.67" width="41.44" height="33.17" fill="#bffcfc"/>
<rect x="400.89" y="255.67" width="20.87" height="33.17" fill="#0099ff"/>
<rect x="421.46" y="255.67" width="20.87" height="33.17" fill="#00cc00"/>
<rect x="442.03" y="255.67" width="20.87" height="33.17" fill="#bffcfc"/>
<rect x="462.6" y="255.67" width="41.44" height="33.17" fill="#00cc00"/>
<rect x="503.74" y="255.67" width="20.87" height="33.17" fill="#0099ff"/>
<rect x="524.31" y="255.67" width="20.87" height="33.17" fill="#bffcfc"/>
<rect x="544.88" y="255.67" width="62.01" height="33.17" fill="#00cc00"/>
<rect x="606.59" y="255.67" width="41.44" height="33.17" fill="#bffcfc"/>
<rect x="647.73" y="255.67" width="20.87" height="33.17" fill="#00cc00"/>
<rect x="668.3" y="255.67" width="41.44" height="33.17" fill="#bffcfc"/>
<rect x="709.44" y="255.67" width="20.87" height="33.17" fill="#00cc00"/>
<rect x="730.01" y="255.67" width="41.44" height="33.17" fill="#bffcfc"/>
<rect x="771.15" y="255.67" width="20.87" height="33.17" fill="#00cc00"/>
<rect x="791.72" y="255.67" width="20.87" height="33.17" fill="#ff9c06"/>
<rect x="812.29" y="255.67" width="20.87" height="33.17" fill="#00cc00"/>
<rect x="832.86" y="255.67" width="20.87" height="33.17" fill="#bffcfc"/>
<rect x="853.43" y="255.67" width="41.44" height="33.17" fill="#00cc00"/>
<rect x="894.57" y="255.67" width="20.87" height="33.17" fill="#ff6666"/>
<rect x="915.14" y="255.67" width="41.44" height="33.17" fill="#00cc00"/>
<rect x="956.28" y="255.67" width="20.87" height="33.17" fill="#bffcfc"/>
<rect x="976.85" y="255.67" width="20.87" height="33.17" fill="#0099ff"/>
<rect x="997.42" y="255.67" width="41.44" height="33.17" fill="#bffcfc"/>
<rect x="1038.56" y="255.67" width="41.44" height="33.17" fill="#00cc00"/>
<rect x="1079.7" y="255.67" width="20.87" height="33.17" fill="#bffcfc"/>
<rect x="1100.27" y="255.67" width="20.87" height="33.17" fill="#ff6666"/>
<rect x="1120.84" y="255.67" width="20.87" height="33.17" fill="#00cc00"/>
<rect x="1141.41" y="255.67" width="20.87" height="33.17" fill="#bffcfc"/>
<rect x="1161.98" y="255.67" width="20.87" height="33.17" fill="#00cc00"/>
<rect x="1182.55" y="255.67" width="20.87" height="33.17" fill="#0099ff"/>
<rect x="1203.12" y="255.67" width="20.87" height="33.17" fill="#ff6666"/>
<rect x="1223.69" y="255.67" width="20.87" height="33.17" fill="#00cc00"/>
<rect x="1244.26" y="255.67" width="20.87" height="33.17" fill="#0099ff"/>
<rect x="1264.83" y="255.67" width="62.01" height="33.17" fill="#00cc00"/>
<rect x="1326.54" y="255.67" width="20.87" height="33.17" fill="#ff9c06"/>
<rect x="1347.11" y="255.67" width="20.87" height="33.17" fill="#0099ff"/>
<rect x="1367.68" y="255.67" width="20.87" height="33.17" fill="#ff9c06"/>
<rect x="1388.25" y="255.67" width="20.87" height="33.17" fill="#00cc00"/>
<rect x="1408.82" y="255.67" width="20.87" height="33.17" fill="#bffcfc"/>
<rect x="1429.39" y="255.67" width="20.87" height="33.17" fill="#00cc00"/>
<rect x="1449.96" y="255.67" width="20.87" height="33.17" fill="#ff9c06"/>
<rect x="1470.53" y="255.67" width="41.44" height="33.17" fill="#00cc00"/>
<rect x="1511.67" y="255.67" width="20.87" height="33.17" fill="#ff9c06"/>
<rect x="1532.24" y="255.67" width="62.01" height="33.17" fill="#00cc00"/>
<rect x="1593.95" y="255.67" width="20.87" height="33.17" fill="#bffcfc"/>
<rect x="1614.52" y="255.67" width="41.44" height="33.17" fill="#00cc00"/>
<rect x="1655.66" y="255.67" width="20.87" height="33.17" fill="#0099ff"/>
<rect x="1676.23" y="255.67" width="20.87" height="33.17" fill="#bffcfc"/>
<rect x="1696.8" y="255.67" width="20.87" height="33.17" fill="#00cc00"/>
<rect x="1717.37" y="255.67" width="20.87" height="33.17" fill="#bffcfc"/>
<rect x="1737.94" y="255.67" width="20.87" height="33.17" fill="#00cc00"/>
<rect x="1758.51" y="255.67" width="103.15" height="33.17" fill="#bffcfc"/>
<rect x="1861.36" y="255.67" width="20.87" height="33.17" fill="#00cc00"/>
<rect x="1881.93" y="255.67" width="41.44" height="33.17" fill="#bffcfc"/>
<rect x="256.9" y="288.54" width="20.87" height="33.17" fill="#0099ff"/>
<rect x="277.47" y="288.54" width="20.87" height="33.17" fill="#ff6666"/>
<rect x="318.61" y="288.54" width="20.87" height="33.17" fill="#0099ff"/>
<rect x="339.18" y="288.54" width="62.01" height="33.17" fill="#bffcfc"/>
<rect x="400.89" y="288.54" width="20.87" height="33.17" fill="#0099ff"/>
<rect x="421.46" y="288.54" width="20.87" height="33.17" fill="#00cc00"/>
<rect x="442.03" y="288.54" width="20.87" height="33.17" fill="#bffcfc"/>
<rect x="462.6" y="288.54" width="41.44" height="33.17" fill="#00cc00"/>
<rect x="503.74" y="288.54" width="20.87" height="33.17" fill="#0099ff"/>
<rect x="524.31" y="288.54" width="20.87" height="33.17" fill="#bffcfc"/>
<rect x="544.88" y="288.54" width="62.01" height="33.17" fill="#00cc00"/>
<rect x="606.59" y="288.54" width="41.44" height="33.17" fill="#bffcfc"/>
<rect x="647.73" y="288.54" width="20.87" height="33.17" fill="#00cc00"/>
<rect x="668.3" y="288.54" width="41.44" height="33.17" fill="#bffcfc"/>
<rect x="709.44" y="288.54" width="20.87" height="33.17" fill="#00cc00"/>
<rect x="730.01" y="288.54" width="41.44" height="33.17" fill="#bffcfc"/>
<rect x="771.15" y="288.54" width="20.87" height="33.17" fill="#00cc00"/>
<rect x="791.72" y="288.54" width="20.87" height="33.17" fill="#ff9c06"/>
<rect x="812.29" y="288.54" width="20.87" height="33.17" fill="#00cc00"/>
<rect x="832.86" y="288.54" width="20.87" height="33.17" fill="#bffcfc"/>
<rect x="853.43" y="288.54" width="41.44" height="33.17" fill="#00cc00"/>
<rect x="894.57" y="288.54" width="20.87" height="33.17" fill="#ff6666"/>
<rect x="915.14" y="288.54" width="41.44" height="33.17" fill="#00cc00"/>
<rect x="956.28" y="288.54" width="20.87" height="33.17" fill="#bffcfc"/>
<rect x="976.85" y="288.54" width="20.87" height="33.17" fill="#0099ff"/>
<rect x="997.42" y="288.54" width="20.87" height="33.17" fill="#bffcfc"/>
<rect x="1017.99" y="288.54" width="20.87" height="33.17" fill="#0099ff"/>
<rect x="1038.56" y="288.54" width="41.44" height="33.17" fill="#00cc00"/>
<rect x="1079.7" y="288.54" width="20.87" height="33.17" fill="#bffcfc"/>
<rect x="1100.27" y="288.54" width="20.87" height="33.17" fill="#ff6666"/>
<rect x="1120.84" y="288.54" width="20.87" height="33.17" fill="#00cc00"/>
<rect x="1141.41" y="288.54" width="20.87" height="33.17" fill="#bffcfc"/>
<rect x="1161.98" y="288.54" width="20.87" height="33.17" fill="#00cc00"/>
<rect x="1182.55" y="288.54" width="20.87" height="33.17" fill="#0099ff"/>
<rect x="1203.12" y="288.54" width="20.87" height="33.17" fill="#ff6666"/>
<rect x="1223.69" y="288.54" width="20.87" height="33.17" fill="#00cc00"/>
<rect x="1244.26" y="288.54" width="20.87" height="33.17" fill="#0099ff"/>
<rect x="1264.83" y="288.54" width="62.01" height="33.17" fill="#00cc00"/>
<rect x="1326.54" y="288.54" width="20.87" height="33.17" fill="#ff9c06"/>
<rect x="1347.11" y="288.54" width="20.87" height="33.17" fill="#0099ff"/>
<rect x="1367.68" y="288.54" width="20.87" height="33.17" fill="#ff9c06"/>
<rect x="1388.25" y="288.54" width="20.87" height="33.17" fill="#00cc00"/>
<rect x="1408.82" y="288.54" width="20.87" height="33.17" fill="#bffcfc"/>
<rect x="1429.39" y="288.54" width="20.87" height="33.17" fill="#00cc00"/>
<rect x="1449.96" y="288.54" width="20.87" height="33.17" fill="#ff9c06"/>
<rect x="1470.53" y="288.54" width="41.44" height="33.17" fill="#00cc00"/>
<rect x="1511.67" y="288.54" width="20.87" height="33.17" fill="#ff9c06"/>
<rect x="1532.24" y="288.54" width="62.01" height="33.17" fill="#00cc00"/>
<rect x="1593.95" y="288.54" width="20.87" height="33.17" fill="#bffcfc"/>
<rect x="1614.52" y="288.54" width="41.44" height="33.17" fill="#00cc00"/>
<rect x="1655.66" y="288.54" width="20.87" height="33.17" fill="#0099ff"/>
<rect x="1676.23" y="288.54" width="20.87" height="33.17" fill="#bffcfc"/>
<rect x="1696.8" y="288.54" width="20.87" height="33.17" fill="#00cc00"/>
<rect x="1717.37" y="288.54" width="20.87" height="33.17" fill="#bffcfc"/>
<rect x="1737.94" y="288.54" width="20.87" height="33.17" fill="#00cc00"/>
<rect x="1758.51" y="288.54" width="103.15" height="33.17" fill="#bffcfc"/>
<rect x="1861.36" y="288.54" width="20.87" height="33.17" fill="#00cc00"/>
<rect x="1881.93" y="288.54" width="41.44" height="33.17" fill="#bffcfc"/>
<rect x="256.9" y="321.41" width="20.87" height="33.17" fill="#bffcfc"/>
<rect x="277.47" y="321.41" width="20.87" height="33.17" fill="#ff6666"/>
<rect x="318.61" y="321.41" width="41.44" height="33.17" fill="#0099ff"/>
<rect x="359.75" y="321.41" width="20.87" height="33.17" fill="#bffcfc"/>
<rect x="380.32" y="321.41" width="20.87" height="33.17" fill="#ffff10"/>
<rect x="400.89" y="321.41" width="20.87" height="33.17" fill="#bffcfc"/>
<rect x="421.46" y="321.41" width="20.87" height="33.17" fill="#00cc00"/>
<rect x="442.03" y="321.41" width="20.87" height="33.17" fill="#ff9c06"/>
<rect x="462.6" y="321.41" width="20.87" height="33.17" fill="#00cc00"/>
<rect x="483.17" y="321.41" width="41.44" height="33.17" fill="#0099ff"/>
<rect x="524.31" y="321.41" width="20.87" height="33.17" fill="#bffcfc"/>
<rect x="544.88" y="321.41" width="62.01" height="33.17" fill="#00cc00"/>
<rect x="606.59" y="321.41" width="20.87" height="33.17" fill="#bffcfc"/>
<rect x="627.16" y="321.41" width="41.44" height="33.17" fill="#00cc00"/>
<rect x="668.3" y="321.41" width="41.44" height="33.17" fill="#bffcfc"/>
<rect x="709.44" y="321.41" width="82.58" height="33.17" fill="#00cc00"/>
<rect x="791.72" y="321.41" width="20.87" height="33.17" fill="#ff9c06"/>
<rect x="812.29" y="321.41" width="20.87" height="33.17" fill="#00cc00"/>
<rect x="832.86" y="321.41" width="20.87" height="33.17" fill="#bffcfc"/>
<rect x="853.43" y="321.41" width="20.87" height="33.17" fill="#00cc00"/>
<rect x="874" y="321.41" width="20.87" height="33.17" fill="#bffcfc"/>
<rect x="894.57" y="321.41" width="20.87" height="33.17" fill="#ff6666"/>
<rect x="915.14" y="321.41" width="41.44" height="33.17" fill="#00cc00"/>
<rect x="956.28" y="321.41" width="41.44" height="33.17" fill="#0099ff"/>
<rect x="997.42" y="321.41" width="20.87" height="33.17" fill="#bffcfc"/>
<rect x="1017.99" y="321.41" width="20.87" height="33.17" fill="#0099ff"/>
<rect x="1038.56" y="321.41" width="41.44" height="33.17" fill="#00cc00"/>
<rect x="1079.7" y="321.41" width="20.87" height="33.17" fill="#bffcfc"/>
<rect x="1100.27" y="321.41" width="20.87" height="33.17" fill="#0099ff"/>
<rect x="1120.84" y="321.41" width="20.87" height="33.17" fill="#00cc00"/>
<rect x="1141.41" y="321.41" width="20.87" height="33.17" fill="#ff6666"/>
<rect x="1161.98" y="321.41" width="20.87" height="33.17" fill="#00cc00"/>
<rect x="1182.55" y="321.41" width="20.87" height="33.17" fill="#0099ff"/>
<rect x="1203.12" y="321.41" width="20.87" height="33.17" fill="#ff6666"/>
<rect x="1223.69" y="321.41" width="20.87" height="33.17" fill="#00cc00"/>
<rect x="1244.26" y="321.41" width="20.87" height="33.17" fill="#0099ff"/>
<rect x="1264.83" y="321.41" width="62.01" height="33.17" fill="#00cc00"/>
<rect x="1326.54" y="321.41" width="20.87" height="33.17" fill="#ff9c06"/>
<rect x="1347.11" y="321.41" width="20.87" height="33.17" fill="#0099ff"/>
<rect x="1367.68" y="321.41" width="20.87" height="33.17" fill="#ff9c06"/>
<rect x="1388.25" y="321.41" width="20.87" height="33.17" fill="#00cc00"/>
<rect x="1408.82" y="321.41" width="20.87" height="33.17" fill="#bffcfc"/>
<rect x="1429.39" y="321.41" width="20.87" height="33.17" fill="#00cc00"/>
<rect x="1449.96" y="321.41" width="20.87" height="33.17" fill="#bffcfc"/>
<rect x="1470.53" y="321.41" width="20.87" height="33.17" fill="#00cc00"/>
<rect x="1491.1" y="321.41" width="41.44" height="33.17" fill="#bffcfc"/>
<rect x="1532.24" y="321.41" width="20.87" height="33.17" fill="#00cc00"/>
<rect x="1552.81" y="321.41" width="20.87" height="33.17" fill="#ffff10"/>
<rect x="1573.38" y="321.41" width="20.87" height="33.17" fill="#00cc00"/>
<rect x="1593.95" y="321.41" width="20.87" height="33.17" fill="#bffcfc"/>
<rect x="1614.52" y="321.41" width="41.44" height="33.17" fill="#00cc00"/>
<rect x="1655.66" y="321.41" width="20.87" height="33.17" fill="#0099ff"/>
<rect x="1676.23" y="321.41" width="20.87" height="33.17" fill="#bffcfc"/>
<rect x="1696.8" y="321.41" width="20.87" height="33.17" fill="#00cc00"/>
<rect x="1717.37" y="321.41" width="20.87" height="33.17" fill="#bffcfc"/>
<rect x="1737.94" y="321.41" width="41.44" height="33.17" fill="#00cc00"/>
<rect x="1779.08" y="321.41" width="82.58" height="33.17" fill="#bffcfc"/>
<rect x="1861.36" y="321.41" width="41.44" height="33.17" fill="#00cc00"/>
<rect x="1902.5" y="321.41" width="20.87" height="33.17" fill="#bffcfc"/>
<rect x="256.9" y="354.28" width="20.87" height="33.17" fill="#bffcfc"/>
<rect x="277.47" y="354.28" width="20.87" height="33.17" fill="#0099ff"/>
<rect x="298.04" y="354.28" width="41.44" height="33.17" fill="#00cc00"/>
<rect x="339.18" y="354.28" width="20.87" height="33.17" fill="#ff6666"/>
<rect x="359.75" y="354.28" width="20.87" height="33.17" fill="#0099ff"/>
<rect x="380.32" y="354.28" width="41.44" height="33.17" fill="#ff6666"/>
<rect x="421.46" y="354.28" width="20.87" height="33.17" fill="#00cc00"/>
<rect x="442.03" y="354.28" width="20.87" height="33.17" fill="#bffcfc"/>
<rect x="462.6" y="354.28" width="41.44" height="33.17" fill="#00cc00"/>
<rect x="503.74" y="354.28" width="41.44" height="33.17" fill="#0099ff"/>
<rect x="544.88" y="354.28" width="41.44" height="33.17" fill="#00cc00"/>
<rect x="586.02" y="354.28" width="41.44" height="33.17" fill="#bffcfc"/>
<rect x="627.16" y="354.28" width="62.01" height="33.17" fill="#00cc00"/>
<rect x="688.87" y="354.28" width="41.44" height="33.17" fill="#bffcfc"/>
<rect x="730.01" y="354.28" width="62.01" height="33.17" fill="#00cc00"/>
<rect x="791.72" y="354.28" width="20.87" height="33.17" fill="#ff9c06"/>
<rect x="812.29" y="354.28" width="20.87" height="33.17" fill="#00cc00"/>
<rect x="832.86" y="354.28" width="20.87" height="33.17" fill="#bffcfc"/>
<rect x="853.43" y="354.28" width="20.87" height="33.17" fill="#0099ff"/>
<rect x="874" y="354.28" width="20.87" height="33.17" fill="#00cc00"/>
<rect x="894.57" y="354.28" width="20.87" height="33.17" fill="#bffcfc"/>
<rect x="915.14" y="354.28" width="62.01" height="33.17" fill="#00cc00"/>
<rect x="976.85" y="354.28" width="20.87" height="33.17" fill="#ff6666"/>
<rect x="997.42" y="354.28" width="41.44" height="33.17" fill="#bffcfc"/>
<rect x="1038.56" y="354.28" width="20.87" height="33.17" fill="#ff9c06"/>
<rect x="1059.13" y="354.28" width="20.87" height="33.17" fill="#00cc00"/>
<rect x="1079.7" y="354.28" width="20.87" height="33.17" fill="#bffcfc"/>
<rect x="1100.27" y="354.28" width="41.44" height="33.17" fill="#00cc00"/>
<rect x="1141.41" y="354.28" width="20.87" height="33.17" fill="#bffcfc"/>
<rect x="1161.98" y="354.28" width="20.87" height="33.17" fill="#00cc00"/>
<rect x="1182.55" y="354.28" width="20.87" height="33.17" fill="#0099ff"/>
<rect x="1203.12" y="354.28" width="20.87" height="33.17" fill="#ff6666"/>
<rect x="1223.69" y="354.28" width="20.87" height="33.17" fill="#00cc00"/>
<rect x="1244.26" y="354.28" width="20.87" height="33.17" fill="#bffcfc"/>
<rect x="1264.83" y="354.28" width="62.01" height="33.17" fill="#00cc00"/>
<rect x="1326.54" y="354.28" width="20.87" height="33.17" fill="#ff9c06"/>
<rect x="1347.11" y="354.28" width="20.87" height="33.17" fill="#0099ff"/>
<rect x="1367.68" y="354.28" width="20.87" height="33.17" fill="#ff9c06"/>
<rect x="1388.25" y="354.28" width="62.01" height="33.17" fill="#00cc00"/>
<rect x="1449.96" y="354.28" width="20.87" height="33.17" fill="#bffcfc"/>
<rect x="1470.53" y="354.28" width="20.87" height="33.17" fill="#00cc00"/>
<rect x="1491.1" y="354.28" width="20.87" height="33.17" fill="#bffcfc"/>
<rect x="1511.67" y="354.28" width="20.87" height="33.17" fill="#ff9c06"/>
<rect x="1532.24" y="354.28" width="62.01" height="33.17" fill="#00cc00"/>
<rect x="1593.95" y="354.28" width="20.87" height="33.17" fill="#bffcfc"/>
<rect x="1614.52" y="354.28" width="41.44" height="33.17" fill="#00cc00"/>
<rect x="1655.66" y="354.28" width="20.87" height="33.17" fill="#0099ff"/>
<rect x="1676.23" y="354.28" width="62.01" height="33.17" fill="#bffcfc"/>
<rect x="1737.94" y="354.28" width="62.01" height="33.17" fill="#00cc00"/>
<rect x="1799.65" y="354.28" width="20.87" height="33.17" fill="#bffcfc"/>
<rect x="1820.22" y="354.28" width="20.87" height="33.17" fill="#ff6666"/>
<rect x="1840.79" y="354.28" width="62.01" height="33.17" fill="#00cc00"/>
<rect x="1902.5" y="354.28" width="20.87" height="33.17" fill="#bffcfc"/>
</g><g>
<text class="nm" x="185" y="248.9" transform="translate(185 0) scale(1.085 1) translate(-185 0)">E.histolytica</text>
<text class="nb" x="248.6" y="249.6" transform="translate(248.6 0) scale(0.96 1) translate(-248.6 0)">82</text>
<text class="sq" transform="scale(0.885 1)" y="249.6" x="300.77 324.02 347.26 370.5 393.75 416.99 440.23 463.47 486.72 509.96 533.2 556.45 579.69 602.93 626.18 649.42 672.66 695.9 719.15 742.39 765.63 788.88 812.12 835.36 858.6 881.85 905.09 928.33 951.58 974.82 998.06 1021.31 1044.55 1067.79 1091.03 1114.28 1137.52 1160.76 1184.01 1207.25 1230.49 1253.73 1276.98 1300.22 1323.46 1346.71 1369.95 1393.19 1416.44 1439.68 1462.92 1486.16 1509.41 1532.65 1555.89 1579.14 1602.38 1625.62 1648.86 1672.11 1695.35 1718.59 1741.84 1765.08 1788.32 1811.56 1834.81 1858.05 1881.29 1904.54 1927.78 1951.02 1974.27 1997.51 2020.75 2043.99 2067.24 2090.48 2113.72 2136.97 2160.21">KE<tspan class="gp">-</tspan>RKTHKISLCKQLAITSLSTITSFPFTYLEIVNRTHCCSDINLKDIKYAIPRPLNIPIIPLYWNILRNITYSTSHSFTS</text>
<text class="nb" x="1973.5" y="249.6" transform="translate(1973.5 0) scale(0.885 1) translate(-1973.5 0)">161</text>
<text class="nm" x="185" y="281.77" transform="translate(185 0) scale(1.085 1) translate(-185 0)">E.nuttalli</text>
<text class="nb" x="248.6" y="282.47" transform="translate(248.6 0) scale(0.96 1) translate(-248.6 0)">82</text>
<text class="sq" transform="scale(0.885 1)" y="282.47" x="300.77 324.02 347.26 370.5 393.75 416.99 440.23 463.47 486.72 509.96 533.2 556.45 579.69 602.93 626.18 649.42 672.66 695.9 719.15 742.39 765.63 788.88 812.12 835.36 858.6 881.85 905.09 928.33 951.58 974.82 998.06 1021.31 1044.55 1067.79 1091.03 1114.28 1137.52 1160.76 1184.01 1207.25 1230.49 1253.73 1276.98 1300.22 1323.46 1346.71 1369.95 1393.19 1416.44 1439.68 1462.92 1486.16 1509.41 1532.65 1555.89 1579.14 1602.38 1625.62 1648.86 1672.11 1695.35 1718.59 1741.84 1765.08 1788.32 1811.56 1834.81 1858.05 1881.29 1904.54 1927.78 1951.02 1974.27 1997.51 2020.75 2043.99 2067.24 2090.48 2113.72 2136.97 2160.21">KE<tspan class="gp">-</tspan>RKTHKISLCKQLAITSLSTITSFPFTYLEIVNRTHCCSDINLKDIKYAIPRPLNIPIVPLYWNILRNITYSTSHSFTS</text>
<text class="nb" x="1973.5" y="282.47" transform="translate(1973.5 0) scale(0.885 1) translate(-1973.5 0)">161</text>
<text class="nm" x="185" y="314.64" transform="translate(185 0) scale(1.085 1) translate(-185 0)">E.dispar</text>
<text class="nb" x="248.6" y="315.34" transform="translate(248.6 0) scale(0.96 1) translate(-248.6 0)">82</text>
<text class="sq" transform="scale(0.885 1)" y="315.34" x="300.77 324.02 347.26 370.5 393.75 416.99 440.23 463.47 486.72 509.96 533.2 556.45 579.69 602.93 626.18 649.42 672.66 695.9 719.15 742.39 765.63 788.88 812.12 835.36 858.6 881.85 905.09 928.33 951.58 974.82 998.06 1021.31 1044.55 1067.79 1091.03 1114.28 1137.52 1160.76 1184.01 1207.25 1230.49 1253.73 1276.98 1300.22 1323.46 1346.71 1369.95 1393.19 1416.44 1439.68 1462.92 1486.16 1509.41 1532.65 1555.89 1579.14 1602.38 1625.62 1648.86 1672.11 1695.35 1718.59 1741.84 1765.08 1788.32 1811.56 1834.81 1858.05 1881.29 1904.54 1927.78 1951.02 1974.27 1997.51 2020.75 2043.99 2067.24 2090.48 2113.72 2136.97 2160.21">KE<tspan class="gp">-</tspan>KQTHKISLCKQLAVTSLSTITSFPFTYLEIINRTRCCSDINIKDIKYAIPRPLNIPIIPLYWNILRNITYSTSHSFTS</text>
<text class="nb" x="1973.5" y="315.34" transform="translate(1973.5 0) scale(0.885 1) translate(-1973.5 0)">161</text>
<text class="nm" x="185" y="347.51" transform="translate(185 0) scale(1.085 1) translate(-185 0)">E.moshkovskii</text>
<text class="nb" x="248.6" y="348.21" transform="translate(248.6 0) scale(0.96 1) translate(-248.6 0)">82</text>
<text class="sq" transform="scale(0.885 1)" y="348.21" x="300.77 324.02 347.26 370.5 393.75 416.99 440.23 463.47 486.72 509.96 533.2 556.45 579.69 602.93 626.18 649.42 672.66 695.9 719.15 742.39 765.63 788.88 812.12 835.36 858.6 881.85 905.09 928.33 951.58 974.82 998.06 1021.31 1044.55 1067.79 1091.03 1114.28 1137.52 1160.76 1184.01 1207.25 1230.49 1253.73 1276.98 1300.22 1323.46 1346.71 1369.95 1393.19 1416.44 1439.68 1462.92 1486.16 1509.41 1532.65 1555.89 1579.14 1602.38 1625.62 1648.86 1672.11 1695.35 1718.59 1741.84 1765.08 1788.32 1811.56 1834.81 1858.05 1881.29 1904.54 1927.78 1951.02 1974.27 1997.51 2020.75 2043.99 2067.24 2090.48 2113.72 2136.97 2160.21">NE<tspan class="gp">-</tspan>KKTGNIPFKKQIYANVISTIMCYPFTASEILKRTKCCSKVELKDIKYAIPRPLNFNFSSVGWNIARNISYLSSHSFIS</text>
<text class="nb" x="1973.5" y="348.21" transform="translate(1973.5 0) scale(0.885 1) translate(-1973.5 0)">161</text>
<text class="nm" x="185" y="380.38" transform="translate(185 0) scale(1.085 1) translate(-185 0)">E.invadens</text>
<text class="nb" x="248.6" y="381.08" transform="translate(248.6 0) scale(0.96 1) translate(-248.6 0)">80</text>
<text class="sq" transform="scale(0.885 1)" y="381.08" x="300.77 324.02 347.26 370.5 393.75 416.99 440.23 463.47 486.72 509.96 533.2 556.45 579.69 602.93 626.18 649.42 672.66 695.9 719.15 742.39 765.63 788.88 812.12 835.36 858.6 881.85 905.09 928.33 951.58 974.82 998.06 1021.31 1044.55 1067.79 1091.03 1114.28 1137.52 1160.76 1184.01 1207.25 1230.49 1253.73 1276.98 1300.22 1323.46 1346.71 1369.95 1393.19 1416.44 1439.68 1462.92 1486.16 1509.41 1532.65 1555.89 1579.14 1602.38 1625.62 1648.86 1672.11 1695.35 1718.59 1741.84 1765.08 1788.32 1811.56 1834.81 1858.05 1881.29 1904.54 1927.78 1951.02 1974.27 1997.51 2020.75 2043.99 2067.24 2090.48 2113.72 2136.97 2160.21">TRCADKEEISLYKKLAQNALATSLMFPFTRAQLLAETNPFSVVQAKDVNYIIPKPLYFSVTPLFWNIARNSTFVCTDALVS</text>
<text class="nb" x="1973.5" y="381.08" transform="translate(1973.5 0) scale(0.885 1) translate(-1973.5 0)">160</text>
</g>
<g shape-rendering="crispEdges">
<rect x="256.9" y="420.4" width="20.87" height="33.17" fill="#00cc00"/>
<rect x="277.47" y="420.4" width="20.87" height="33.17" fill="#0099ff"/>
<rect x="298.04" y="420.4" width="20.87" height="33.17" fill="#00cc00"/>
<rect x="318.61" y="420.4" width="41.44" height="33.17" fill="#bffcfc"/>
<rect x="359.75" y="420.4" width="20.87" height="33.17" fill="#00cc00"/>
<rect x="380.32" y="420.4" width="20.87" height="33.17" fill="#0099ff"/>
<rect x="400.89" y="420.4" width="41.44" height="33.17" fill="#00cc00"/>
<rect x="442.03" y="420.4" width="82.58" height="33.17" fill="#bffcfc"/>
<rect x="524.31" y="420.4" width="41.44" height="33.17" fill="#00cc00"/>
<rect x="565.45" y="420.4" width="20.87" height="33.17" fill="#0099ff"/>
<rect x="586.02" y="420.4" width="20.87" height="33.17" fill="#00cc00"/>
<rect x="606.59" y="420.4" width="20.87" height="33.17" fill="#bffcfc"/>
<rect x="627.16" y="420.4" width="41.44" height="33.17" fill="#00cc00"/>
<rect x="668.3" y="420.4" width="41.44" height="33.17" fill="#bffcfc"/>
<rect x="709.44" y="420.4" width="41.44" height="33.17" fill="#00cc00"/>
<rect x="750.58" y="420.4" width="20.87" height="33.17" fill="#ffff10"/>
<rect x="771.15" y="420.4" width="20.87" height="33.17" fill="#bffcfc"/>
<rect x="791.72" y="420.4" width="41.44" height="33.17" fill="#00cc00"/>
<rect x="832.86" y="420.4" width="20.87" height="33.17" fill="#bffcfc"/>
<rect x="853.43" y="420.4" width="20.87" height="33.17" fill="#00cc00"/>
<rect x="874" y="420.4" width="20.87" height="33.17" fill="#ff9c06"/>
<rect x="894.57" y="420.4" width="20.87" height="33.17" fill="#00cc00"/>
<rect x="915.14" y="420.4" width="20.87" height="33.17" fill="#ff6666"/>
<rect x="935.71" y="420.4" width="62.01" height="33.17" fill="#00cc00"/>
<rect x="997.42" y="420.4" width="20.87" height="33.17" fill="#bffcfc"/>
<rect x="1017.99" y="420.4" width="20.87" height="33.17" fill="#0099ff"/>
<rect x="1038.56" y="420.4" width="20.87" height="33.17" fill="#bffcfc"/>
<rect x="1059.13" y="420.4" width="20.87" height="33.17" fill="#00cc00"/>
<rect x="1079.7" y="420.4" width="41.44" height="33.17" fill="#bffcfc"/>
<rect x="1120.84" y="420.4" width="20.87" height="33.17" fill="#00cc00"/>
<rect x="1141.41" y="420.4" width="41.44" height="33.17" fill="#bffcfc"/>
<rect x="1182.55" y="420.4" width="20.87" height="33.17" fill="#ffff10"/>
<rect x="1203.12" y="420.4" width="20.87" height="33.17" fill="#00cc00"/>
<rect x="1223.69" y="420.4" width="20.87" height="33.17" fill="#bffcfc"/>
<rect x="1244.26" y="420.4" width="20.87" height="33.17" fill="#ff9c06"/>
<rect x="1264.83" y="420.4" width="20.87" height="33.17" fill="#bffcfc"/>
<rect x="1285.4" y="420.4" width="41.44" height="33.17" fill="#00cc00"/>
<rect x="1326.54" y="420.4" width="41.44" height="33.17" fill="#bffcfc"/>
<rect x="1367.68" y="420.4" width="20.87" height="33.17" fill="#ffff10"/>
<rect x="1388.25" y="420.4" width="41.44" height="33.17" fill="#00cc00"/>
<rect x="1429.39" y="420.4" width="41.44" height="33.17" fill="#bffcfc"/>
<rect x="1470.53" y="420.4" width="62.01" height="33.17" fill="#00cc00"/>
<rect x="1532.24" y="420.4" width="20.87" height="33.17" fill="#bffcfc"/>
<rect x="1552.81" y="420.4" width="20.87" height="33.17" fill="#00cc00"/>
<rect x="1573.38" y="420.4" width="20.87" height="33.17" fill="#bffcfc"/>
<rect x="1593.95" y="420.4" width="20.87" height="33.17" fill="#00cc00"/>
<rect x="1614.52" y="420.4" width="41.44" height="33.17" fill="#bffcfc"/>
<rect x="1655.66" y="420.4" width="41.44" height="33.17" fill="#00cc00"/>
<rect x="1696.8" y="420.4" width="20.87" height="33.17" fill="#ffff10"/>
<rect x="1717.37" y="420.4" width="62.01" height="33.17" fill="#00cc00"/>
<rect x="1779.08" y="420.4" width="20.87" height="33.17" fill="#ff6666"/>
<rect x="1799.65" y="420.4" width="20.87" height="33.17" fill="#0099ff"/>
<rect x="1820.22" y="420.4" width="41.44" height="33.17" fill="#00cc00"/>
<rect x="1861.36" y="420.4" width="20.87" height="33.17" fill="#ff6666"/>
<rect x="1881.93" y="420.4" width="20.87" height="33.17" fill="#0099ff"/>
<rect x="1902.5" y="420.4" width="20.87" height="33.17" fill="#bffcfc"/>
<rect x="256.9" y="453.27" width="20.87" height="33.17" fill="#00cc00"/>
<rect x="277.47" y="453.27" width="20.87" height="33.17" fill="#0099ff"/>
<rect x="298.04" y="453.27" width="20.87" height="33.17" fill="#00cc00"/>
<rect x="318.61" y="453.27" width="62.01" height="33.17" fill="#bffcfc"/>
<rect x="380.32" y="453.27" width="20.87" height="33.17" fill="#0099ff"/>
<rect x="400.89" y="453.27" width="41.44" height="33.17" fill="#00cc00"/>
<rect x="442.03" y="453.27" width="82.58" height="33.17" fill="#bffcfc"/>
<rect x="524.31" y="453.27" width="41.44" height="33.17" fill="#00cc00"/>
<rect x="565.45" y="453.27" width="20.87" height="33.17" fill="#0099ff"/>
<rect x="586.02" y="453.27" width="20.87" height="33.17" fill="#00cc00"/>
<rect x="606.59" y="453.27" width="20.87" height="33.17" fill="#bffcfc"/>
<rect x="627.16" y="453.27" width="41.44" height="33.17" fill="#00cc00"/>
<rect x="668.3" y="453.27" width="41.44" height="33.17" fill="#bffcfc"/>
<rect x="709.44" y="453.27" width="41.44" height="33.17" fill="#00cc00"/>
<rect x="750.58" y="453.27" width="20.87" height="33.17" fill="#ffff10"/>
<rect x="771.15" y="453.27" width="20.87" height="33.17" fill="#bffcfc"/>
<rect x="791.72" y="453.27" width="41.44" height="33.17" fill="#00cc00"/>
<rect x="832.86" y="453.27" width="20.87" height="33.17" fill="#bffcfc"/>
<rect x="853.43" y="453.27" width="20.87" height="33.17" fill="#00cc00"/>
<rect x="874" y="453.27" width="20.87" height="33.17" fill="#ff9c06"/>
<rect x="894.57" y="453.27" width="20.87" height="33.17" fill="#00cc00"/>
<rect x="915.14" y="453.27" width="20.87" height="33.17" fill="#ff6666"/>
<rect x="935.71" y="453.27" width="62.01" height="33.17" fill="#00cc00"/>
<rect x="997.42" y="453.27" width="20.87" height="33.17" fill="#bffcfc"/>
<rect x="1017.99" y="453.27" width="20.87" height="33.17" fill="#0099ff"/>
<rect x="1038.56" y="453.27" width="20.87" height="33.17" fill="#bffcfc"/>
<rect x="1059.13" y="453.27" width="20.87" height="33.17" fill="#00cc00"/>
<rect x="1079.7" y="453.27" width="41.44" height="33.17" fill="#bffcfc"/>
<rect x="1120.84" y="453.27" width="20.87" height="33.17" fill="#00cc00"/>
<rect x="1141.41" y="453.27" width="41.44" height="33.17" fill="#bffcfc"/>
<rect x="1182.55" y="453.27" width="20.87" height="33.17" fill="#ffff10"/>
<rect x="1203.12" y="453.27" width="20.87" height="33.17" fill="#00cc00"/>
<rect x="1223.69" y="453.27" width="20.87" height="33.17" fill="#bffcfc"/>
<rect x="1244.26" y="453.27" width="20.87" height="33.17" fill="#ff9c06"/>
<rect x="1264.83" y="453.27" width="20.87" height="33.17" fill="#bffcfc"/>
<rect x="1285.4" y="453.27" width="41.44" height="33.17" fill="#00cc00"/>
<rect x="1326.54" y="453.27" width="41.44" height="33.17" fill="#bffcfc"/>
<rect x="1367.68" y="453.27" width="20.87" height="33.17" fill="#ffff10"/>
<rect x="1388.25" y="453.27" width="41.44" height="33.17" fill="#00cc00"/>
<rect x="1429.39" y="453.27" width="41.44" height="33.17" fill="#bffcfc"/>
<rect x="1470.53" y="453.27" width="62.01" height="33.17" fill="#00cc00"/>
<rect x="1532.24" y="453.27" width="20.87" height="33.17" fill="#bffcfc"/>
<rect x="1552.81" y="453.27" width="20.87" height="33.17" fill="#00cc00"/>
<rect x="1573.38" y="453.27" width="20.87" height="33.17" fill="#bffcfc"/>
<rect x="1593.95" y="453.27" width="20.87" height="33.17" fill="#00cc00"/>
<rect x="1614.52" y="453.27" width="41.44" height="33.17" fill="#bffcfc"/>
<rect x="1655.66" y="453.27" width="41.44" height="33.17" fill="#00cc00"/>
<rect x="1696.8" y="453.27" width="20.87" height="33.17" fill="#ffff10"/>
<rect x="1717.37" y="453.27" width="62.01" height="33.17" fill="#00cc00"/>
<rect x="1779.08" y="453.27" width="20.87" height="33.17" fill="#ff6666"/>
<rect x="1799.65" y="453.27" width="20.87" height="33.17" fill="#0099ff"/>
<rect x="1820.22" y="453.27" width="41.44" height="33.17" fill="#00cc00"/>
<rect x="1861.36" y="453.27" width="20.87" height="33.17" fill="#ff6666"/>
<rect x="1881.93" y="453.27" width="20.87" height="33.17" fill="#0099ff"/>
<rect x="1902.5" y="453.27" width="20.87" height="33.17" fill="#bffcfc"/>
<rect x="256.9" y="486.14" width="20.87" height="33.17" fill="#00cc00"/>
<rect x="277.47" y="486.14" width="20.87" height="33.17" fill="#0099ff"/>
<rect x="298.04" y="486.14" width="20.87" height="33.17" fill="#00cc00"/>
<rect x="318.61" y="486.14" width="62.01" height="33.17" fill="#bffcfc"/>
<rect x="380.32" y="486.14" width="20.87" height="33.17" fill="#0099ff"/>
<rect x="400.89" y="486.14" width="41.44" height="33.17" fill="#00cc00"/>
<rect x="442.03" y="486.14" width="82.58" height="33.17" fill="#bffcfc"/>
<rect x="524.31" y="486.14" width="41.44" height="33.17" fill="#00cc00"/>
<rect x="565.45" y="486.14" width="20.87" height="33.17" fill="#0099ff"/>
<rect x="586.02" y="486.14" width="41.44" height="33.17" fill="#bffcfc"/>
<rect x="627.16" y="486.14" width="41.44" height="33.17" fill="#00cc00"/>
<rect x="668.3" y="486.14" width="41.44" height="33.17" fill="#bffcfc"/>
<rect x="709.44" y="486.14" width="41.44" height="33.17" fill="#00cc00"/>
<rect x="750.58" y="486.14" width="20.87" height="33.17" fill="#ffff10"/>
<rect x="771.15" y="486.14" width="20.87" height="33.17" fill="#bffcfc"/>
<rect x="791.72" y="486.14" width="41.44" height="33.17" fill="#00cc00"/>
<rect x="832.86" y="486.14" width="20.87" height="33.17" fill="#bffcfc"/>
<rect x="853.43" y="486.14" width="20.87" height="33.17" fill="#00cc00"/>
<rect x="874" y="486.14" width="20.87" height="33.17" fill="#ff9c06"/>
<rect x="894.57" y="486.14" width="20.87" height="33.17" fill="#00cc00"/>
<rect x="915.14" y="486.14" width="20.87" height="33.17" fill="#ff6666"/>
<rect x="935.71" y="486.14" width="82.58" height="33.17" fill="#00cc00"/>
<rect x="1017.99" y="486.14" width="20.87" height="33.17" fill="#0099ff"/>
<rect x="1038.56" y="486.14" width="20.87" height="33.17" fill="#bffcfc"/>
<rect x="1059.13" y="486.14" width="20.87" height="33.17" fill="#00cc00"/>
<rect x="1079.7" y="486.14" width="41.44" height="33.17" fill="#bffcfc"/>
<rect x="1120.84" y="486.14" width="20.87" height="33.17" fill="#00cc00"/>
<rect x="1141.41" y="486.14" width="41.44" height="33.17" fill="#bffcfc"/>
<rect x="1182.55" y="486.14" width="20.87" height="33.17" fill="#ffff10"/>
<rect x="1203.12" y="486.14" width="20.87" height="33.17" fill="#00cc00"/>
<rect x="1223.69" y="486.14" width="20.87" height="33.17" fill="#bffcfc"/>
<rect x="1244.26" y="486.14" width="20.87" height="33.17" fill="#ff9c06"/>
<rect x="1264.83" y="486.14" width="20.87" height="33.17" fill="#bffcfc"/>
<rect x="1285.4" y="486.14" width="41.44" height="33.17" fill="#00cc00"/>
<rect x="1326.54" y="486.14" width="41.44" height="33.17" fill="#bffcfc"/>
<rect x="1367.68" y="486.14" width="20.87" height="33.17" fill="#ffff10"/>
<rect x="1388.25" y="486.14" width="41.44" height="33.17" fill="#00cc00"/>
<rect x="1429.39" y="486.14" width="41.44" height="33.17" fill="#bffcfc"/>
<rect x="1470.53" y="486.14" width="62.01" height="33.17" fill="#00cc00"/>
<rect x="1532.24" y="486.14" width="20.87" height="33.17" fill="#bffcfc"/>
<rect x="1552.81" y="486.14" width="62.01" height="33.17" fill="#00cc00"/>
<rect x="1614.52" y="486.14" width="41.44" height="33.17" fill="#bffcfc"/>
<rect x="1655.66" y="486.14" width="41.44" height="33.17" fill="#00cc00"/>
<rect x="1696.8" y="486.14" width="20.87" height="33.17" fill="#ffff10"/>
<rect x="1717.37" y="486.14" width="62.01" height="33.17" fill="#00cc00"/>
<rect x="1779.08" y="486.14" width="20.87" height="33.17" fill="#ff6666"/>
<rect x="1799.65" y="486.14" width="20.87" height="33.17" fill="#0099ff"/>
<rect x="1820.22" y="486.14" width="41.44" height="33.17" fill="#00cc00"/>
<rect x="1861.36" y="486.14" width="20.87" height="33.17" fill="#ff6666"/>
<rect x="1881.93" y="486.14" width="20.87" height="33.17" fill="#0099ff"/>
<rect x="1902.5" y="486.14" width="20.87" height="33.17" fill="#bffcfc"/>
<rect x="256.9" y="519.01" width="20.87" height="33.17" fill="#00cc00"/>
<rect x="277.47" y="519.01" width="20.87" height="33.17" fill="#0099ff"/>
<rect x="298.04" y="519.01" width="20.87" height="33.17" fill="#00cc00"/>
<rect x="318.61" y="519.01" width="41.44" height="33.17" fill="#bffcfc"/>
<rect x="359.75" y="519.01" width="20.87" height="33.17" fill="#00cc00"/>
<rect x="380.32" y="519.01" width="20.87" height="33.17" fill="#ff9c06"/>
<rect x="421.46" y="519.01" width="20.87" height="33.17" fill="#00cc00"/>
<rect x="442.03" y="519.01" width="20.87" height="33.17" fill="#ffff10"/>
<rect x="462.6" y="519.01" width="20.87" height="33.17" fill="#ff9c06"/>
<rect x="483.17" y="519.01" width="20.87" height="33.17" fill="#bffcfc"/>
<rect x="503.74" y="519.01" width="20.87" height="33.17" fill="#0099ff"/>
<rect x="524.31" y="519.01" width="41.44" height="33.17" fill="#00cc00"/>
<rect x="565.45" y="519.01" width="20.87" height="33.17" fill="#0099ff"/>
<rect x="586.02" y="519.01" width="41.44" height="33.17" fill="#bffcfc"/>
<rect x="627.16" y="519.01" width="41.44" height="33.17" fill="#00cc00"/>
<rect x="668.3" y="519.01" width="41.44" height="33.17" fill="#bffcfc"/>
<rect x="709.44" y="519.01" width="41.44" height="33.17" fill="#00cc00"/>
<rect x="750.58" y="519.01" width="20.87" height="33.17" fill="#ffff10"/>
<rect x="771.15" y="519.01" width="20.87" height="33.17" fill="#bffcfc"/>
<rect x="791.72" y="519.01" width="41.44" height="33.17" fill="#00cc00"/>
<rect x="832.86" y="519.01" width="20.87" height="33.17" fill="#bffcfc"/>
<rect x="853.43" y="519.01" width="20.87" height="33.17" fill="#00cc00"/>
<rect x="874" y="519.01" width="20.87" height="33.17" fill="#ff9c06"/>
<rect x="894.57" y="519.01" width="20.87" height="33.17" fill="#00cc00"/>
<rect x="915.14" y="519.01" width="20.87" height="33.17" fill="#ff6666"/>
<rect x="935.71" y="519.01" width="82.58" height="33.17" fill="#00cc00"/>
<rect x="1017.99" y="519.01" width="20.87" height="33.17" fill="#0099ff"/>
<rect x="1038.56" y="519.01" width="20.87" height="33.17" fill="#bffcfc"/>
<rect x="1059.13" y="519.01" width="20.87" height="33.17" fill="#00cc00"/>
<rect x="1079.7" y="519.01" width="41.44" height="33.17" fill="#bffcfc"/>
<rect x="1120.84" y="519.01" width="20.87" height="33.17" fill="#00cc00"/>
<rect x="1141.41" y="519.01" width="20.87" height="33.17" fill="#0099ff"/>
<rect x="1161.98" y="519.01" width="20.87" height="33.17" fill="#bffcfc"/>
<rect x="1182.55" y="519.01" width="20.87" height="33.17" fill="#ff9c06"/>
<rect x="1203.12" y="519.01" width="20.87" height="33.17" fill="#00cc00"/>
<rect x="1223.69" y="519.01" width="20.87" height="33.17" fill="#0099ff"/>
<rect x="1244.26" y="519.01" width="20.87" height="33.17" fill="#ff9c06"/>
<rect x="1264.83" y="519.01" width="20.87" height="33.17" fill="#bffcfc"/>
<rect x="1285.4" y="519.01" width="62.01" height="33.17" fill="#00cc00"/>
<rect x="1347.11" y="519.01" width="41.44" height="33.17" fill="#ffff10"/>
<rect x="1388.25" y="519.01" width="41.44" height="33.17" fill="#00cc00"/>
<rect x="1429.39" y="519.01" width="20.87" height="33.17" fill="#bffcfc"/>
<rect x="1449.96" y="519.01" width="20.87" height="33.17" fill="#ff6666"/>
<rect x="1470.53" y="519.01" width="62.01" height="33.17" fill="#00cc00"/>
<rect x="1532.24" y="519.01" width="20.87" height="33.17" fill="#bffcfc"/>
<rect x="1552.81" y="519.01" width="20.87" height="33.17" fill="#00cc00"/>
<rect x="1573.38" y="519.01" width="20.87" height="33.17" fill="#ffff10"/>
<rect x="1593.95" y="519.01" width="20.87" height="33.17" fill="#00cc00"/>
<rect x="1614.52" y="519.01" width="41.44" height="33.17" fill="#bffcfc"/>
<rect x="1655.66" y="519.01" width="41.44" height="33.17" fill="#00cc00"/>
<rect x="1696.8" y="519.01" width="20.87" height="33.17" fill="#ffff10"/>
<rect x="1717.37" y="519.01" width="62.01" height="33.17" fill="#00cc00"/>
<rect x="1779.08" y="519.01" width="20.87" height="33.17" fill="#ff6666"/>
<rect x="1799.65" y="519.01" width="20.87" height="33.17" fill="#0099ff"/>
<rect x="1820.22" y="519.01" width="20.87" height="33.17" fill="#00cc00"/>
<rect x="1840.79" y="519.01" width="20.87" height="33.17" fill="#bffcfc"/>
<rect x="1861.36" y="519.01" width="20.87" height="33.17" fill="#ff6666"/>
<rect x="1881.93" y="519.01" width="20.87" height="33.17" fill="#bffcfc"/>
<rect x="1902.5" y="519.01" width="20.87" height="33.17" fill="#0099ff"/>
<rect x="380.32" y="551.88" width="20.87" height="33.17" fill="#0099ff"/>
<rect x="400.89" y="551.88" width="41.44" height="33.17" fill="#00cc00"/>
<rect x="442.03" y="551.88" width="20.87" height="33.17" fill="#0099ff"/>
<rect x="462.6" y="551.88" width="20.87" height="33.17" fill="#ffff10"/>
<rect x="483.17" y="551.88" width="20.87" height="33.17" fill="#0099ff"/>
<rect x="503.74" y="551.88" width="41.44" height="33.17" fill="#bffcfc"/>
<rect x="544.88" y="551.88" width="41.44" height="33.17" fill="#00cc00"/>
<rect x="586.02" y="551.88" width="20.87" height="33.17" fill="#0099ff"/>
<rect x="606.59" y="551.88" width="20.87" height="33.17" fill="#00cc00"/>
<rect x="627.16" y="551.88" width="82.58" height="33.17" fill="#bffcfc"/>
<rect x="709.44" y="551.88" width="41.44" height="33.17" fill="#00cc00"/>
<rect x="750.58" y="551.88" width="20.87" height="33.17" fill="#ffff10"/>
<rect x="771.15" y="551.88" width="20.87" height="33.17" fill="#bffcfc"/>
<rect x="791.72" y="551.88" width="41.44" height="33.17" fill="#00cc00"/>
<rect x="832.86" y="551.88" width="20.87" height="33.17" fill="#bffcfc"/>
<rect x="853.43" y="551.88" width="20.87" height="33.17" fill="#00cc00"/>
<rect x="874" y="551.88" width="20.87" height="33.17" fill="#ff9c06"/>
<rect x="894.57" y="551.88" width="20.87" height="33.17" fill="#00cc00"/>
<rect x="915.14" y="551.88" width="20.87" height="33.17" fill="#ff6666"/>
<rect x="935.71" y="551.88" width="82.58" height="33.17" fill="#00cc00"/>
<rect x="1017.99" y="551.88" width="20.87" height="33.17" fill="#0099ff"/>
<rect x="1038.56" y="551.88" width="20.87" height="33.17" fill="#bffcfc"/>
<rect x="1059.13" y="551.88" width="20.87" height="33.17" fill="#00cc00"/>
<rect x="1079.7" y="551.88" width="20.87" height="33.17" fill="#bffcfc"/>
<rect x="1100.27" y="551.88" width="41.44" height="33.17" fill="#00cc00"/>
<rect x="1141.41" y="551.88" width="20.87" height="33.17" fill="#bffcfc"/>
<rect x="1161.98" y="551.88" width="20.87" height="33.17" fill="#00cc00"/>
<rect x="1182.55" y="551.88" width="20.87" height="33.17" fill="#ff9c06"/>
<rect x="1203.12" y="551.88" width="41.44" height="33.17" fill="#bffcfc"/>
<rect x="1244.26" y="551.88" width="20.87" height="33.17" fill="#ff9c06"/>
<rect x="1264.83" y="551.88" width="41.44" height="33.17" fill="#bffcfc"/>
<rect x="1305.97" y="551.88" width="62.01" height="33.17" fill="#00cc00"/>
<rect x="1367.68" y="551.88" width="20.87" height="33.17" fill="#ffff10"/>
<rect x="1388.25" y="551.88" width="20.87" height="33.17" fill="#00cc00"/>
<rect x="1408.82" y="551.88" width="41.44" height="33.17" fill="#bffcfc"/>
<rect x="1449.96" y="551.88" width="20.87" height="33.17" fill="#ff6666"/>
<rect x="1470.53" y="551.88" width="41.44" height="33.17" fill="#00cc00"/>
<rect x="1511.67" y="551.88" width="20.87" height="33.17" fill="#0099ff"/>
<rect x="1532.24" y="551.88" width="20.87" height="33.17" fill="#bffcfc"/>
<rect x="1552.81" y="551.88" width="144.29" height="33.17" fill="#00cc00"/>
<rect x="1696.8" y="551.88" width="20.87" height="33.17" fill="#ffff10"/>
<rect x="1717.37" y="551.88" width="41.44" height="33.17" fill="#00cc00"/>
<rect x="1758.51" y="551.88" width="20.87" height="33.17" fill="#bffcfc"/>
<rect x="1779.08" y="551.88" width="20.87" height="33.17" fill="#ff6666"/>
<rect x="1799.65" y="551.88" width="20.87" height="33.17" fill="#00cc00"/>
<rect x="1820.22" y="551.88" width="20.87" height="33.17" fill="#bffcfc"/>
<rect x="1840.79" y="551.88" width="41.44" height="33.17" fill="#00cc00"/>
<rect x="1881.93" y="551.88" width="41.44" height="33.17" fill="#0099ff"/>
</g><g>
<text class="nm" x="185" y="446.5" transform="translate(185 0) scale(1.085 1) translate(-185 0)">E.histolytica</text>
<text class="nb" x="248.6" y="447.2" transform="translate(248.6 0) scale(0.96 1) translate(-248.6 0)">162</text>
<text class="sq" transform="scale(0.885 1)" y="447.2" x="300.77 324.02 347.26 370.5 393.75 416.99 440.23 463.47 486.72 509.96 533.2 556.45 579.69 602.93 626.18 649.42 672.66 695.9 719.15 742.39 765.63 788.88 812.12 835.36 858.6 881.85 905.09 928.33 951.58 974.82 998.06 1021.31 1044.55 1067.79 1091.03 1114.28 1137.52 1160.76 1184.01 1207.25 1230.49 1253.73 1276.98 1300.22 1323.46 1346.71 1369.95 1393.19 1416.44 1439.68 1462.92 1486.16 1509.41 1532.65 1555.89 1579.14 1602.38 1625.62 1648.86 1672.11 1695.35 1718.59 1741.84 1765.08 1788.32 1811.56 1834.81 1858.05 1881.29 1904.54 1927.78 1951.02 1974.27 1997.51 2020.75 2043.99 2067.24 2090.48 2113.72 2136.97 2160.21">LKLQNIKCFSSNSLIKINAISSMVGTLLSYPFDVLLSRSIHNYSTGFSPSILTHGICTQLLINVSLSSAYGYLAEKYYEKH</text>
<text class="nb" x="1973.5" y="447.2" transform="translate(1973.5 0) scale(0.885 1) translate(-1973.5 0)">242</text>
<text class="nm" x="185" y="479.37" transform="translate(185 0) scale(1.085 1) translate(-185 0)">E.nuttalli</text>
<text class="nb" x="248.6" y="480.07" transform="translate(248.6 0) scale(0.96 1) translate(-248.6 0)">162</text>
<text class="sq" transform="scale(0.885 1)" y="480.07" x="300.77 324.02 347.26 370.5 393.75 416.99 440.23 463.47 486.72 509.96 533.2 556.45 579.69 602.93 626.18 649.42 672.66 695.9 719.15 742.39 765.63 788.88 812.12 835.36 858.6 881.85 905.09 928.33 951.58 974.82 998.06 1021.31 1044.55 1067.79 1091.03 1114.28 1137.52 1160.76 1184.01 1207.25 1230.49 1253.73 1276.98 1300.22 1323.46 1346.71 1369.95 1393.19 1416.44 1439.68 1462.92 1486.16 1509.41 1532.65 1555.89 1579.14 1602.38 1625.62 1648.86 1672.11 1695.35 1718.59 1741.84 1765.08 1788.32 1811.56 1834.81 1858.05 1881.29 1904.54 1927.78 1951.02 1974.27 1997.51 2020.75 2043.99 2067.24 2090.48 2113.72 2136.97 2160.21">LKLQNTKCFSSNSLIKINVISSMVGTLLSYPFDVLLTRSIHNYSTGFSPSILTHGICTQLLLNISLSSVYGYLAEKYYEKH</text>
<text class="nb" x="1973.5" y="480.07" transform="translate(1973.5 0) scale(0.885 1) translate(-1973.5 0)">242</text>
<text class="nm" x="185" y="512.24" transform="translate(185 0) scale(1.085 1) translate(-185 0)">E.dispar</text>
<text class="nb" x="248.6" y="512.94" transform="translate(248.6 0) scale(0.96 1) translate(-248.6 0)">162</text>
<text class="sq" transform="scale(0.885 1)" y="512.94" x="300.77 324.02 347.26 370.5 393.75 416.99 440.23 463.47 486.72 509.96 533.2 556.45 579.69 602.93 626.18 649.42 672.66 695.9 719.15 742.39 765.63 788.88 812.12 835.36 858.6 881.85 905.09 928.33 951.58 974.82 998.06 1021.31 1044.55 1067.79 1091.03 1114.28 1137.52 1160.76 1184.01 1207.25 1230.49 1253.73 1276.98 1300.22 1323.46 1346.71 1369.95 1393.19 1416.44 1439.68 1462.92 1486.16 1509.41 1532.65 1555.89 1579.14 1602.38 1625.62 1648.86 1672.11 1695.35 1718.59 1741.84 1765.08 1788.32 1811.56 1834.81 1858.05 1881.29 1904.54 1927.78 1951.02 1974.27 1997.51 2020.75 2043.99 2067.24 2090.48 2113.72 2136.97 2160.21">LKLQNTKYFSSNSLIKTNAISSMVGTLLSYPFDVLLVRSIHNYSTGFSPSLLTHGICTQLLLNVCLSSVYGYLAERYYEKH</text>
<text class="nb" x="1973.5" y="512.94" transform="translate(1973.5 0) scale(0.885 1) translate(-1973.5 0)">242</text>
<text class="nm" x="185" y="545.11" transform="translate(185 0) scale(1.085 1) translate(-185 0)">E.moshkovskii</text>
<text class="nb" x="248.6" y="545.81" transform="translate(248.6 0) scale(0.96 1) translate(-248.6 0)">162</text>
<text class="sq" transform="scale(0.885 1)" y="545.81" x="300.77 324.02 347.26 370.5 393.75 416.99 440.23 463.47 486.72 509.96 533.2 556.45 579.69 602.93 626.18 649.42 672.66 695.9 719.15 742.39 765.63 788.88 812.12 835.36 858.6 881.85 905.09 928.33 951.58 974.82 998.06 1021.31 1044.55 1067.79 1091.03 1114.28 1137.52 1160.76 1184.01 1207.25 1230.49 1253.73 1276.98 1300.22 1323.46 1346.71 1369.95 1393.19 1416.44 1439.68 1462.92 1486.16 1509.41 1532.65 1555.89 1579.14 1602.38 1625.62 1648.86 1672.11 1695.35 1718.59 1741.84 1765.08 1788.32 1811.56 1834.81 1858.05 1881.29 1904.54 1927.78 1951.02 1974.27 1997.51 2020.75 2043.99 2067.24 2090.48 2113.72 2136.97 2160.21">WKLQNIP<tspan class="gp">-</tspan>LGPNRVMKTNAISSAVGTLVSYPFDVFFVRSLHNYRTPLKPSIMYGGLFTELMINVGLSSAYGYIIDKYNETK</text>
<text class="nb" x="1973.5" y="545.81" transform="translate(1973.5 0) scale(0.885 1) translate(-1973.5 0)">241</text>
<text class="nm" x="185" y="577.98" transform="translate(185 0) scale(1.085 1) translate(-185 0)">E.invadens</text>
<text class="nb" x="248.6" y="578.68" transform="translate(248.6 0) scale(0.96 1) translate(-248.6 0)">161</text>
<text class="sq" transform="scale(0.885 1)" y="578.68" x="300.77 324.02 347.26 370.5 393.75 416.99 440.23 463.47 486.72 509.96 533.2 556.45 579.69 602.93 626.18 649.42 672.66 695.9 719.15 742.39 765.63 788.88 812.12 835.36 858.6 881.85 905.09 928.33 951.58 974.82 998.06 1021.31 1044.55 1067.79 1091.03 1114.28 1137.52 1160.76 1184.01 1207.25 1230.49 1253.73 1276.98 1300.22 1323.46 1346.71 1369.95 1393.19 1416.44 1439.68 1462.92 1486.16 1509.41 1532.65 1555.89 1579.14 1602.38 1625.62 1648.86 1672.11 1695.35 1718.59 1741.84 1765.08 1788.32 1811.56 1834.81 1858.05 1881.29 1904.54 1927.78 1951.02 1974.27 1997.51 2020.75 2043.99 2067.24 2090.48 2113.72 2136.97 2160.21"><tspan class="gp">------</tspan>KYLKGKSNVVRFTTTSLVGTLVSYPFEVAMIRSLHLCQIPSTPSNFFVGVSTELFKNVAVAAVMGVFSDYNVMKK</text>
<text class="nb" x="1973.5" y="578.68" transform="translate(1973.5 0) scale(0.885 1) translate(-1973.5 0)">235</text>
</g>
<g shape-rendering="crispEdges">
<rect x="256.9" y="618" width="20.87" height="33.17" fill="#bffcfc"/>
<rect x="277.47" y="618" width="20.87" height="33.17" fill="#00cc00"/>
<rect x="298.04" y="618" width="41.44" height="33.17" fill="#0099ff"/>
<rect x="339.18" y="618" width="20.87" height="33.17" fill="#bffcfc"/>
<rect x="359.75" y="618" width="41.44" height="33.17" fill="#00cc00"/>
<rect x="400.89" y="618" width="20.87" height="33.17" fill="#0099ff"/>
<rect x="421.46" y="618" width="20.87" height="33.17" fill="#bffcfc"/>
<rect x="442.03" y="618" width="20.87" height="33.17" fill="#00cc00"/>
<rect x="462.6" y="618" width="20.87" height="33.17" fill="#0099ff"/>
<rect x="483.17" y="618" width="20.87" height="33.17" fill="#bffcfc"/>
<rect x="503.74" y="618" width="82.58" height="33.17" fill="#00cc00"/>
<rect x="586.02" y="618" width="41.44" height="33.17" fill="#bffcfc"/>
<rect x="256.9" y="650.87" width="20.87" height="33.17" fill="#bffcfc"/>
<rect x="277.47" y="650.87" width="20.87" height="33.17" fill="#00cc00"/>
<rect x="298.04" y="650.87" width="41.44" height="33.17" fill="#0099ff"/>
<rect x="339.18" y="650.87" width="20.87" height="33.17" fill="#bffcfc"/>
<rect x="359.75" y="650.87" width="41.44" height="33.17" fill="#00cc00"/>
<rect x="400.89" y="650.87" width="41.44" height="33.17" fill="#bffcfc"/>
<rect x="442.03" y="650.87" width="20.87" height="33.17" fill="#00cc00"/>
<rect x="462.6" y="650.87" width="20.87" height="33.17" fill="#0099ff"/>
<rect x="483.17" y="650.87" width="20.87" height="33.17" fill="#bffcfc"/>
<rect x="503.74" y="650.87" width="62.01" height="33.17" fill="#00cc00"/>
<rect x="565.45" y="650.87" width="20.87" height="33.17" fill="#ff6666"/>
<rect x="586.02" y="650.87" width="41.44" height="33.17" fill="#bffcfc"/>
<rect x="256.9" y="683.74" width="20.87" height="33.17" fill="#ff9c06"/>
<rect x="277.47" y="683.74" width="20.87" height="33.17" fill="#00cc00"/>
<rect x="298.04" y="683.74" width="41.44" height="33.17" fill="#0099ff"/>
<rect x="339.18" y="683.74" width="20.87" height="33.17" fill="#bffcfc"/>
<rect x="359.75" y="683.74" width="41.44" height="33.17" fill="#00cc00"/>
<rect x="400.89" y="683.74" width="20.87" height="33.17" fill="#ffff10"/>
<rect x="421.46" y="683.74" width="20.87" height="33.17" fill="#bffcfc"/>
<rect x="442.03" y="683.74" width="20.87" height="33.17" fill="#00cc00"/>
<rect x="462.6" y="683.74" width="20.87" height="33.17" fill="#0099ff"/>
<rect x="483.17" y="683.74" width="20.87" height="33.17" fill="#bffcfc"/>
<rect x="503.74" y="683.74" width="82.58" height="33.17" fill="#00cc00"/>
<rect x="586.02" y="683.74" width="41.44" height="33.17" fill="#bffcfc"/>
<rect x="256.9" y="716.61" width="20.87" height="33.17" fill="#bffcfc"/>
<rect x="277.47" y="716.61" width="41.44" height="33.17" fill="#0099ff"/>
<rect x="318.61" y="716.61" width="20.87" height="33.17" fill="#bffcfc"/>
<rect x="339.18" y="716.61" width="20.87" height="33.17" fill="#00cc00"/>
<rect x="359.75" y="716.61" width="20.87" height="33.17" fill="#bffcfc"/>
<rect x="380.32" y="716.61" width="82.58" height="33.17" fill="#00cc00"/>
<rect x="462.6" y="716.61" width="41.44" height="33.17" fill="#0099ff"/>
<rect x="503.74" y="716.61" width="62.01" height="33.17" fill="#00cc00"/>
<rect x="565.45" y="716.61" width="20.87" height="33.17" fill="#0099ff"/>
<rect x="586.02" y="716.61" width="20.87" height="33.17" fill="#00cc00"/>
<rect x="256.9" y="749.48" width="20.87" height="33.17" fill="#bffcfc"/>
<rect x="277.47" y="749.48" width="20.87" height="33.17" fill="#ff6666"/>
<rect x="298.04" y="749.48" width="20.87" height="33.17" fill="#0099ff"/>
<rect x="318.61" y="749.48" width="20.87" height="33.17" fill="#bffcfc"/>
<rect x="339.18" y="749.48" width="20.87" height="33.17" fill="#00cc00"/>
<rect x="359.75" y="749.48" width="20.87" height="33.17" fill="#bffcfc"/>
<rect x="421.46" y="749.48" width="20.87" height="33.17" fill="#0099ff"/>
<rect x="442.03" y="749.48" width="20.87" height="33.17" fill="#00cc00"/>
<rect x="462.6" y="749.48" width="41.44" height="33.17" fill="#bffcfc"/>
<rect x="503.74" y="749.48" width="41.44" height="33.17" fill="#00cc00"/>
<rect x="544.88" y="749.48" width="20.87" height="33.17" fill="#0099ff"/>
<rect x="565.45" y="749.48" width="20.87" height="33.17" fill="#bffcfc"/>
<rect x="586.02" y="749.48" width="20.87" height="33.17" fill="#00cc00"/>
<rect x="606.59" y="749.48" width="20.87" height="33.17" fill="#0099ff"/>
</g><g>
<text class="nm" x="185" y="644.1" transform="translate(185 0) scale(1.085 1) translate(-185 0)">E.histolytica</text>
<text class="nb" x="248.6" y="644.8" transform="translate(248.6 0) scale(0.96 1) translate(-248.6 0)">243</text>
<text class="sq" transform="scale(0.885 1)" y="644.8" x="300.77 324.02 347.26 370.5 393.75 416.99 440.23 463.47 486.72 509.96 533.2 556.45 579.69 602.93 626.18 649.42 672.66 695.9">SLKRSVFRSIKSIFFASQ</text>
<text class="nb" x="1973.5" y="644.8" transform="translate(1973.5 0) scale(0.885 1) translate(-1973.5 0)">260</text>
<text class="nm" x="185" y="676.97" transform="translate(185 0) scale(1.085 1) translate(-185 0)">E.nuttalli</text>
<text class="nb" x="248.6" y="677.67" transform="translate(248.6 0) scale(0.96 1) translate(-248.6 0)">243</text>
<text class="sq" transform="scale(0.885 1)" y="677.67" x="300.77 324.02 347.26 370.5 393.75 416.99 440.23 463.47 486.72 509.96 533.2 556.45 579.69 602.93 626.18 649.42 672.66 695.9">TLKRSVFTSIKSIFFDSQ</text>
<text class="nb" x="1973.5" y="677.67" transform="translate(1973.5 0) scale(0.885 1) translate(-1973.5 0)">260</text>
<text class="nm" x="185" y="709.84" transform="translate(185 0) scale(1.085 1) translate(-185 0)">E.dispar</text>
<text class="nb" x="248.6" y="710.54" transform="translate(248.6 0) scale(0.96 1) translate(-248.6 0)">243</text>
<text class="sq" transform="scale(0.885 1)" y="710.54" x="300.77 324.02 347.26 370.5 393.75 416.99 440.23 463.47 486.72 509.96 533.2 556.45 579.69 602.93 626.18 649.42 672.66 695.9">PLKRSLFGSIKSMFFASQ</text>
<text class="nb" x="1973.5" y="710.54" transform="translate(1973.5 0) scale(0.885 1) translate(-1973.5 0)">260</text>
<text class="nm" x="185" y="742.71" transform="translate(185 0) scale(1.085 1) translate(-185 0)">E.moshkovskii</text>
<text class="nb" x="248.6" y="743.41" transform="translate(248.6 0) scale(0.96 1) translate(-248.6 0)">242</text>
<text class="sq" transform="scale(0.885 1)" y="743.41" x="300.77 324.02 347.26 370.5 393.75 416.99 440.23 463.47 486.72 509.96 533.2 556.45 579.69 602.93 626.18 649.42 672.66 695.9">SKRTFSFFAIKKMLLKW<tspan class="gp">-</tspan></text>
<text class="nb" x="1973.5" y="743.41" transform="translate(1973.5 0) scale(0.885 1) translate(-1973.5 0)">258</text>
<text class="nm" x="185" y="775.58" transform="translate(185 0) scale(1.085 1) translate(-185 0)">E.invadens</text>
<text class="nb" x="248.6" y="776.28" transform="translate(248.6 0) scale(0.96 1) translate(-248.6 0)">236</text>
<text class="sq" transform="scale(0.885 1)" y="776.28" x="300.77 324.02 347.26 370.5 393.75 416.99 440.23 463.47 486.72 509.96 533.2 556.45 579.69 602.93 626.18 649.42 672.66 695.9">QEKQLS<tspan class="gp">--</tspan>RLQQFLRTWK</text>
<text class="nb" x="1973.5" y="776.28" transform="translate(1973.5 0) scale(0.885 1) translate(-1973.5 0)">251</text>
</g>
<rect class="box" x="1404.5" y="19.7" width="474.5" height="177"/>
<rect class="box" x="461" y="214.6" width="432.2" height="177.1"/>
<rect class="box" x="1225.2" y="214.7" width="454.5" height="177.1" stroke-dasharray="19.1 7.23"/>
<rect class="box" x="519.8" y="410.3" width="475.2" height="178.8" stroke-dasharray="19.1 7.23"/>
<rect class="box" x="1282.2" y="409.6" width="474" height="178.5"/>
<text class="cap" x="997.3" y="847">(a)</text>
<text class="cap" x="996.8" y="1802.3">(b)</text>
<g>
<rect x="465.86" y="916.8" width="126.36" height="652" fill="#d9d9d9"/>
<rect x="647.3" y="916.8" width="125.55" height="652" fill="#d9d9d9"/>
<rect x="1305.29" y="916.8" width="113.67" height="652" fill="#d9d9d9"/>
<rect x="873.5" y="916.7" width="85.6" height="653.6" fill="#f2f2f2" stroke="#7f7f7f" stroke-width="6.4" stroke-dasharray="6.4 6.9" stroke-linejoin="round"/>
<rect x="1087.4" y="916.7" width="135.6" height="653.6" fill="#f2f2f2" stroke="#7f7f7f" stroke-width="6.4" stroke-dasharray="6.4 6.9" stroke-linejoin="round"/>
<path d="M164.4 917.2V1569.2H1566.4" fill="none" stroke="#c6c6c6" stroke-width="4.8" stroke-linejoin="round"/>
<path d="M164.4 1476h10.4M164.4 1383.2h10.4M164.4 1290.4h10.4M164.4 1197.6h10.4M164.4 1104.8h10.4M164.4 1012h10.4M164.4 919.2h10.4M434.2 1569.2V1561.2M703.5 1569.2V1561.2M972.8 1569.2V1561.2M1242.1 1569.2V1561.2M1511.4 1569.2V1561.2" fill="none" stroke="#c9c9c9" stroke-width="4.4"/>
<text class="tk" text-anchor="end" x="137.2" y="1580.2">0</text>
<text class="tk" text-anchor="end" x="137.2" y="1487.4">2</text>
<text class="tk" text-anchor="end" x="137.2" y="1394.6">4</text>
<text class="tk" text-anchor="end" x="137.2" y="1301.8">6</text>
<text class="tk" text-anchor="end" x="137.2" y="1209">8</text>
<text class="tk" text-anchor="end" x="137.2" y="1116.2">10</text>
<text class="tk" text-anchor="end" x="137.2" y="1023.4">12</text>
<text class="tk" text-anchor="end" x="137.2" y="930.6">14</text>
<text class="tk" text-anchor="middle" x="165.4" y="1618.3">0</text>
<text class="tk" text-anchor="middle" x="434.7" y="1618.3">50</text>
<text class="tk" text-anchor="middle" x="704" y="1618.3">100</text>
<text class="tk" text-anchor="middle" x="973.3" y="1618.3">150</text>
<text class="tk" text-anchor="middle" x="1242.6" y="1618.3">200</text>
<text class="tk" text-anchor="middle" x="1511.9" y="1618.3">250</text>
<text class="ax" x="849.2" y="1707.6">Sequence position</text>
<text class="ax" transform="translate(62 1232.5) rotate(-90) scale(0.972 1.04)">Predicted ΔG (kcal / mol)</text>
<path class="ln" d="M228.8 1310.35 234.2 1316.85 239.6 1314.06 245 1312.21 250.4 1351.18 255.8 1326.59 261.2 1303.39 266.6 1297.82 272 1300.61 277.4 1290.4 282.8 1300.61 288.2 1296.9 293.6 1272.3 299 1250.5 304.4 1238.9 309.8 1247.25 315.2 1260.7 320.6 1250.03 326 1257.92 331.4 1303.39 336.8 1307.57 342.2 1302.46 347.6 1295.04 353 1279.73 358.4 1286.69 363.8 1324.74 369.2 1305.71 374.6 1317.78 380 1297.82 385.4 1257.92 390.8 1234.72 396.2 1244.93 401.6 1254.21 407 1255.14 412.4 1248.18 417.8 1253.28 423.2 1252.82 428.6 1255.14 434 1212.91 439.4 1226.37 444.8 1239.82 450.2 1194.82 455.6 1212.91 461 1239.82 466.4 1221.73 471.8 1265.34 477.2 1269.06 482.6 1269.52 488 1269.06 493.4 1259.78 498.8 1263.49 504.2 1317.78 509.6 1345.62 515 1344.69 520.4 1347.47 525.8 1389.7 531.2 1430.53 536.6 1428.67 542 1441.2 547.4 1405.94 552.8 1405.01 558.2 1353.5 563.6 1319.17 569 1308.5 574.4 1284.83 579.8 1223.58 585.2 1212.45 590.6 1184.61 596 1148.88 601.4 1147.02 606.8 1142.85 612.2 1138.21 617.6 1112.69 623 1103.87 628.4 1105.73 633.8 1121.97 639.2 1140.06 644.6 1134.5 650 1165.12 655.4 1156.3 660.8 1192.5 666.2 1226.83 671.6 1257.46 677 1296.43 682.4 1320.1 687.8 1322.88 693.2 1354.43 698.6 1390.62 704 1412.43 709.4 1430.53 714.8 1415.68 720.2 1402.22 725.6 1400.37 731 1379.49 736.4 1397.12 741.8 1366.96 747.2 1334.48 752.6 1323.81 758 1319.17 763.4 1312.67 768.8 1263.02 774.2 1273.23 779.6 1240.29 785 1240.29 790.4 1218.94 795.8 1211.52 801.2 1202.24 806.6 1202.24 812 1183.68 817.4 1176.72 822.8 1170.69 828.2 1116.86 833.6 1134.96 839 1098.77 844.4 1104.34 849.8 1093.2 855.2 1089.02 860.6 1071.86 866 1102.48 871.4 1104.34 876.8 1102.48 882.2 1151.2 887.6 1194.82 893 1237.97 898.4 1279.73 903.8 1325.2 909.2 1368.35 914.6 1408.72 920 1359.54 925.4 1363.25 930.8 1350.26 936.2 1341.44 941.6 1320.56 947 1328.45 952.4 1303.39 957.8 1260.24 963.2 1205.95 968.6 1216.16 974 1211.06 979.4 1225.44 984.8 1246.32 990.2 1243.07 995.6 1289.94 1001 1247.25 1006.4 1218.48 1011.8 1216.62 1017.2 1227.76 1022.6 1212.91 1028 1191.1 1033.4 1186 1038.8 1198.53 1044.2 1144.24 1049.6 1117.33 1055 1131.71 1060.4 1147.95 1065.8 1144.24 1071.2 1166.05 1076.6 1180.43 1082 1198.53 1087.4 1209.2 1092.8 1210.13 1098.2 1218.48 1103.6 1214.77 1109 1232.86 1114.4 1229.15 1119.8 1281.12 1125.2 1332.16 1130.6 1354.43 1136 1363.25 1141.4 1374.38 1146.8 1362.32 1152.2 1392.48 1157.6 1390.62 1163 1408.72 1168.4 1415.68 1173.8 1395.73 1179.2 1376.24 1184.6 1364.64 1190 1341.44 1195.4 1370.67 1200.8 1336.8 1206.2 1318.24 1211.6 1325.2 1217 1316.38 1222.4 1303.86 1227.8 1281.12 1233.2 1298.29 1238.6 1244 1244 1206.88 1249.4 1186 1254.8 1202.24 1260.2 1225.9 1265.6 1256.53 1271 1246.78 1276.4 1257.92 1281.8 1264.88 1287.2 1259.78 1292.6 1258.85 1298 1262.56 1303.4 1295.04 1308.8 1332.16 1314.2 1350.72 1319.6 1360 1325 1396.19 1330.4 1381.81 1335.8 1412.43 1341.2 1403.15 1346.6 1401.76 1352 1396.19 1357.4 1423.1 1362.8 1437.95 1368.2 1457.44 1373.6 1476 1379 1441.2 1384.4 1419.39 1389.8 1418.93 1395.2 1414.29 1400.6 1403.15 1406 1356.29 1411.4 1307.57 1416.8 1247.71 1422.2 1188.32 1427.6 1155.84 1433 1128 1438.4 1123.36 1443.8 1098.3 1449.2 1101.09 1454.6 1095.52 1460 1105.73 1465.4 1101.09 1470.8 1105.73 1476.2 1092.74 1481.6 1085.78 1487 1089.02 1492.4 1103.87 1497.8 1175.79 1503.2 1206.88 1508.6 1214.77 1514 1199.46" stroke="#f77f35" stroke-width="4.2"/>
<path class="ln" d="M228.8 1295.97 234.2 1294.11 239.6 1283.44 245 1271.38 250.4 1313.6 255.8 1284.83 261.2 1259.78 266.6 1267.2 272 1306.64 277.4 1292.72 282.8 1302 288.2 1298.29 293.6 1276.48 299 1253.28 304.4 1244 309.8 1253.28 315.2 1276.02 320.6 1265.34 326 1277.87 331.4 1328.45 336.8 1337.73 342.2 1334.02 347.6 1317.78 353 1297.82 358.4 1310.35 363.8 1330.3 369.2 1321.02 374.6 1334.02 380 1317.78 385.4 1276.02 390.8 1244.46 396.2 1254.21 401.6 1261.63 407 1261.63 412.4 1254.21 417.8 1251.89 423.2 1250.96 428.6 1254.21 434 1202.24 439.4 1211.06 444.8 1216.62 450.2 1180.43 455.6 1216.62 461 1245.39 466.4 1231.01 471.8 1285.3 477.2 1292.26 482.6 1302.46 488 1303.39 493.4 1295.97 498.8 1303.39 504.2 1345.15 509.6 1370.21 515 1357.22 520.4 1350.72 525.8 1379.02 531.2 1411.5 536.6 1411.97 542 1429.6 547.4 1389.7 552.8 1389.7 558.2 1339.12 563.6 1302.93 569 1274.16 574.4 1244 579.8 1195.28 585.2 1183.68 590.6 1158.16 596 1124.75 601.4 1125.68 606.8 1134.5 612.2 1130.78 617.6 1111.76 623 1104.8 628.4 1104.8 633.8 1105.73 639.2 1113.62 644.6 1100.16 650 1121.97 655.4 1110.83 660.8 1140.06 666.2 1183.22 671.6 1217.55 677 1250.5 682.4 1283.9 687.8 1307.57 693.2 1338.19 698.6 1370.67 704 1397.58 709.4 1415.68 714.8 1398.51 720.2 1388.77 725.6 1390.62 731 1375.31 736.4 1385.52 741.8 1370.67 747.2 1366.03 752.6 1363.25 758 1360.93 763.4 1352.58 768.8 1303.86 774.2 1305.71 779.6 1265.81 785 1229.62 790.4 1208.74 795.8 1196.21 801.2 1185.07 806.6 1186 812 1174.4 817.4 1178.11 822.8 1177.18 828.2 1174.4 833.6 1165.58 839 1140.53 844.4 1138.67 849.8 1128 855.2 1118.72 860.6 1093.2 866 1102.48 871.4 1111.76 876.8 1106.19 882.2 1146.1 887.6 1188.32 893 1232.4 898.4 1274.16 903.8 1320.56 909.2 1364.64 914.6 1406.4 920 1373.92 925.4 1378.56 930.8 1364.64 936.2 1360 941.6 1334.48 947 1336.8 952.4 1306.64 957.8 1264.88 963.2 1220.8 968.6 1232.4 974 1223.12 979.4 1234.72 984.8 1249.57 990.2 1244 995.6 1290.4 1001 1246.32 1006.4 1216.62 1011.8 1209.2 1017.2 1227.3 1022.6 1220.34 1028 1212.91 1033.4 1191.1 1038.8 1198.53 1044.2 1153.52 1049.6 1109.9 1055 1108.05 1060.4 1126.14 1065.8 1117.33 1071.2 1129.86 1076.6 1130.78 1082 1156.77 1087.4 1158.62 1092.8 1159.55 1098.2 1169.76 1103.6 1169.76 1109 1200.38 1114.4 1192.96 1119.8 1239.36 1125.2 1280.19 1130.6 1309.89 1136 1312.67 1141.4 1320.1 1146.8 1310.82 1152.2 1354.43 1157.6 1359.54 1163 1381.34 1168.4 1397.58 1173.8 1385.52 1179.2 1372.53 1184.6 1366.96 1190 1365.1 1195.4 1393.87 1200.8 1365.1 1206.2 1339.58 1211.6 1354.43 1217 1349.79 1222.4 1341.44 1227.8 1325.2 1233.2 1337.26 1238.6 1303.86 1244 1245.86 1249.4 1211.52 1254.8 1231.47 1260.2 1260.24 1265.6 1287.62 1271 1260.24 1276.4 1269.52 1281.8 1276.02 1287.2 1265.81 1292.6 1260.24 1298 1271.38 1303.4 1307.57 1308.8 1343.76 1314.2 1352.58 1319.6 1361.86 1325 1392.48 1330.4 1386.91 1335.8 1430.53 1341.2 1414.29 1346.6 1419.39 1352 1424.96 1357.4 1446.77 1362.8 1463.01 1368.2 1481.1 1373.6 1487.6 1379 1466.72 1384.4 1434.24 1389.8 1440.27 1395.2 1441.2 1400.6 1434.24 1406 1386.91 1411.4 1332.62 1416.8 1278.34 1422.2 1227.76 1427.6 1174.4 1433 1138.21 1438.4 1130.78 1443.8 1089.02 1449.2 1090.88 1454.6 1088.1 1460 1091.81 1465.4 1093.66 1470.8 1097.38 1476.2 1082.06 1481.6 1080.21 1487 1084.85 1492.4 1098.3 1497.8 1166.98 1503.2 1197.6 1508.6 1204.1 1514 1193.89" stroke="#00b4f2" stroke-width="4.6"/>
<path class="ln" d="M228.8 1317.78 234.2 1315.92 239.6 1310.35 245 1303.86 250.4 1324.74 255.8 1315.92 261.2 1304.78 266.6 1302.93 272 1290.4 277.4 1273.23 282.8 1282.51 288.2 1276.02 293.6 1265.34 299 1261.63 304.4 1250.5 309.8 1261.63 315.2 1273.23 320.6 1263.49 326 1285.3 331.4 1314.06 336.8 1321.49 342.2 1322.42 347.6 1332.16 353 1321.49 358.4 1326.59 363.8 1362.78 369.2 1339.58 374.6 1317.78 380 1284.83 385.4 1221.26 390.8 1174.86 396.2 1169.3 401.6 1162.34 407 1146.1 412.4 1142.38 417.8 1138.67 423.2 1147.49 428.6 1134.96 434 1098.77 439.4 1122.43 444.8 1122.43 450.2 1098.77 455.6 1136.82 461 1173.94 466.4 1142.38 471.8 1183.68 477.2 1194.82 482.6 1203.63 488 1221.73 493.4 1237.04 498.8 1237.97 504.2 1279.73 509.6 1298.75 515 1302.93 520.4 1279.26 525.8 1321.95 531.2 1367.89 536.6 1358.61 542 1349.79 547.4 1342.83 552.8 1327.52 558.2 1266.74 563.6 1236.11 569 1224.98 574.4 1184.61 579.8 1143.78 585.2 1107.58 590.6 1074.64 596 1038.45 601.4 1027.78 606.8 1019.42 612.2 1016.18 617.6 997.15 623 986.94 628.4 988.8 633.8 985.09 639.2 986.02 644.6 977.2 650 981.84 655.4 984.16 660.8 1022.21 666.2 1058.4 671.6 1096.45 677 1145.17 682.4 1183.22 687.8 1226.83 693.2 1268.59 698.6 1312.67 704 1353.5 709.4 1351.65 714.8 1347.01 720.2 1346.08 725.6 1369.74 731 1369.28 736.4 1383.2 741.8 1360 747.2 1336.8 752.6 1320.1 758 1312.67 763.4 1276.48 768.8 1237.04 774.2 1213.38 779.6 1177.18 785 1164.66 790.4 1129.39 795.8 1098.77 801.2 1088.1 806.6 1092.27 812 1085.31 817.4 1097.84 822.8 1109.9 828.2 1110.37 833.6 1134.96 839 1111.3 844.4 1104.8 849.8 1088.1 855.2 1091.81 860.6 1086.24 866 1089.95 871.4 1078.82 876.8 1073.71 882.2 1093.2 887.6 1108.05 893 1136.82 898.4 1176.72 903.8 1212.91 909.2 1252.82 914.6 1308.5 920 1280.66 925.4 1291.33 930.8 1266.27 936.2 1271.84 941.6 1280.66 947 1274.16 952.4 1235.65 957.8 1206.88 963.2 1171.15 968.6 1190.18 974 1185.07 979.4 1214.77 984.8 1232.86 990.2 1258.38 995.6 1303.39 1001 1291.79 1006.4 1280.19 1011.8 1275.55 1017.2 1280.19 1022.6 1282.51 1028 1252.82 1033.4 1232.86 1038.8 1216.62 1044.2 1198.53 1049.6 1205.02 1055 1198.53 1060.4 1184.14 1065.8 1167.9 1071.2 1173.01 1076.6 1180.43 1082 1198.53 1087.4 1156.77 1092.8 1130.78 1098.2 1137.74 1103.6 1128.93 1109 1135.89 1114.4 1137.74 1119.8 1184.14 1125.2 1225.44 1130.6 1219.41 1136 1260.24 1141.4 1256.53 1146.8 1302 1152.2 1316.38 1157.6 1339.58 1163 1347.01 1168.4 1352.58 1173.8 1348.86 1179.2 1355.36 1184.6 1336.34 1190 1384.13 1195.4 1338.19 1200.8 1318.24 1206.2 1334.48 1211.6 1349.79 1217 1328.91 1222.4 1308.96 1227.8 1311.28 1233.2 1256.53 1238.6 1205.95 1244 1171.62 1249.4 1166.05 1254.8 1150.74 1260.2 1174.4 1265.6 1153.52 1271 1159.09 1276.4 1184.14 1281.8 1193.42 1287.2 1204.1 1292.6 1188.78 1298 1245.86 1303.4 1278.34 1308.8 1300.14 1314.2 1323.81 1319.6 1345.62 1325 1343.76 1330.4 1368.82 1335.8 1368.82 1341.2 1385.06 1346.6 1385.06 1352 1423.1 1357.4 1441.2 1362.8 1459.3 1368.2 1463.01 1373.6 1459.3 1379 1428.67 1384.4 1421.25 1389.8 1415.68 1395.2 1332.62 1400.6 1278.34 1406 1237.97 1411.4 1211.52 1416.8 1121.97 1422.2 1076.5 1427.6 1069.54 1433 1064.9 1438.4 1056.54 1443.8 1047.73 1449.2 1040.3 1454.6 1067.68 1460 1079.28 1465.4 1079.28 1470.8 1070 1476.2 1082.06 1481.6 1096.45 1487 1123.36 1492.4 1168.83 1497.8 1211.98 1503.2 1243.07" stroke="#ffc305" stroke-width="4.3"/>
<path class="ln" d="M228.8 1335.87 234.2 1310.35 239.6 1359.07 245 1332.16 250.4 1311.28 255.8 1315.92 261.2 1276.48 266.6 1244 272 1232.86 277.4 1241.68 282.8 1249.1 288.2 1237.97 293.6 1229.15 299 1243.54 304.4 1218.02 309.8 1193.89 315.2 1199.92 320.6 1230.08 326 1219.87 331.4 1211.06 336.8 1205.49 342.2 1188.32 347.6 1185.54 353 1208.27 358.4 1176.72 363.8 1169.3 369.2 1131.25 374.6 1089.02 380 1073.71 385.4 1112.22 390.8 1108.05 396.2 1093.2 401.6 1070.93 407 1091.81 412.4 1122.43 417.8 1163.26 423.2 1171.15 428.6 1209.2 434 1248.18 439.4 1242.61 444.8 1283.44 450.2 1318.7 455.6 1287.15 461 1285.3 466.4 1290.4 471.8 1310.35 477.2 1322.42 482.6 1314.99 488 1317.78 493.4 1334.02 498.8 1283.44 504.2 1247.25 509.6 1234.72 515 1253.28 520.4 1272.3 525.8 1225.44 531.2 1223.58 536.6 1193.89 542 1210.59 547.4 1193.89 552.8 1192.03 558.2 1218.02 563.6 1190.18 569 1154.45 574.4 1112.69 579.8 1080.21 585.2 1049.58 590.6 1012.46 596 1016.18 601.4 1035.2 606.8 1049.58 612.2 1038.45 617.6 1069.54 623 1094.59 628.4 1065.82 633.8 1036.13 639.2 1036.13 644.6 1081.14 650 1083.92 655.4 1096.45 660.8 1089.49 666.2 1120.11 671.6 1132.64 677 1163.26 682.4 1192.96 687.8 1234.72 693.2 1299.68 698.6 1347.01 704 1372.53 709.4 1381.34 714.8 1386.91 720.2 1403.15 725.6 1424.96 731 1383.2 736.4 1345.62 741.8 1323.81 747.2 1315.46 752.6 1348.86 758 1321.95 763.4 1308.96 768.8 1302 774.2 1291.33 779.6 1305.71 785 1265.81 790.4 1248.64 795.8 1235.18 801.2 1219.41 806.6 1207.81 812 1211.52 817.4 1213.84 822.8 1184.14 828.2 1181.36 833.6 1138.67 839 1112.22 844.4 1108.05 849.8 1156.77 855.2 1147.49 860.6 1176.72 866 1199.92 871.4 1167.44 876.8 1194.82 882.2 1221.73 887.6 1257.92 893 1294.11 898.4 1326.59 903.8 1350.72 909.2 1355.36 914.6 1337.73 920 1337.73 925.4 1326.59 930.8 1329.38 936.2 1325.2 941.6 1337.73 947 1336.8 952.4 1321.49 957.8 1293.18 963.2 1294.11 968.6 1286.22 974 1297.82 979.4 1301.54 984.8 1317.78 990.2 1369.28 995.6 1339.58 1001 1307.1 1006.4 1274.62 1011.8 1263.49 1017.2 1205.95 1022.6 1174.86 1028 1161.41 1033.4 1180.43 1038.8 1192.96 1044.2 1179.04 1049.6 1166.05 1055 1165.12 1060.4 1158.62 1065.8 1183.68 1071.2 1210.13 1076.6 1205.95 1082 1203.17 1087.4 1231.01 1092.8 1260.24 1098.2 1276.48 1103.6 1296.9 1109 1293.65 1114.4 1349.33 1119.8 1354.9 1125.2 1377.63 1130.6 1401.76 1136 1415.68 1141.4 1417.54 1146.8 1416.61 1152.2 1401.3 1157.6 1411.5 1163 1386.91 1168.4 1401.3 1173.8 1406.86 1179.2 1392.48 1184.6 1376.24 1190 1352.58 1195.4 1345.15 1200.8 1312.67 1206.2 1289.01 1211.6 1277.41 1217 1266.74 1222.4 1274.62 1227.8 1300.14 1233.2 1289.01 1238.6 1303.86 1244 1289.01 1249.4 1274.62 1254.8 1269.98 1260.2 1233.79 1265.6 1256.53 1271 1280.19 1276.4 1252.35 1281.8 1256.99 1287.2 1245.86 1292.6 1244 1298 1255.14 1303.4 1256.99 1308.8 1261.17 1314.2 1271.38 1319.6 1269.52 1325 1278.34 1330.4 1300.14 1335.8 1356.29 1341.2 1341.9 1346.6 1334.48 1352 1354.43 1357.4 1351.65 1362.8 1360 1368.2 1375.31 1373.6 1363.71 1379 1366.96 1384.4 1258.85 1389.8 1220.8 1395.2 1197.6 1400.6 1174.4 1406 1147.02 1411.4 1102.02 1416.8 1058.4 1422.2 1045.87 1427.6 998.54 1433 953.54 1438.4 953.54 1443.8 972.56 1449.2 975.34 1454.6 964.21 1460 1002.26 1465.4 1016.64" stroke="#48b03c" stroke-width="4.3"/>
<path class="ln" d="M228.8 1310.35 234.2 1316.85 239.6 1314.06 245 1312.21 250.4 1351.18 255.8 1326.59 261.2 1303.39 266.6 1297.82 272 1300.61 277.4 1290.4 282.8 1300.61 288.2 1296.9 293.6 1272.3 299 1250.5 304.4 1238.9 309.8 1247.25 315.2 1260.7 320.6 1250.03 326 1257.92 331.4 1303.39 336.8 1307.57 342.2 1302.46 347.6 1295.04 353 1279.73 358.4 1286.69 363.8 1324.74 369.2 1305.71 374.6 1317.78 380 1297.82 385.4 1257.92 390.8 1234.72 396.2 1244.93 401.6 1254.21 407 1255.14 412.4 1248.18 417.8 1253.28 423.2 1252.82 428.6 1255.14 434 1212.91 439.4 1226.37 444.8 1239.82 450.2 1194.82 455.6 1212.91 461 1239.82 466.4 1221.73 471.8 1265.34 477.2 1269.06 482.6 1269.52 488 1269.06 493.4 1259.78 498.8 1263.49 504.2 1317.78 509.6 1345.62 515 1344.69 520.4 1347.47 525.8 1389.7 531.2 1430.53 536.6 1428.67 542 1441.2 547.4 1405.94 552.8 1405.01 558.2 1353.5 563.6 1319.17 569 1308.5 574.4 1284.83 579.8 1223.58 585.2 1212.45 590.6 1184.61 596 1148.88 601.4 1147.02 606.8 1142.85 612.2 1138.21 617.6 1112.69 623 1103.87 628.4 1105.73 633.8 1121.97 639.2 1140.06 644.6 1134.5 650 1165.12 655.4 1156.3 660.8 1192.5 666.2 1226.83 671.6 1257.46 677 1296.43 682.4 1320.1 687.8 1322.88 693.2 1354.43 698.6 1390.62 704 1412.43 709.4 1430.53 714.8 1415.68 720.2 1402.22 725.6 1400.37 731 1379.49 736.4 1397.12 741.8 1366.96 747.2 1334.48 752.6 1323.81 758 1319.17 763.4 1312.67 768.8 1263.02 774.2 1273.23 779.6 1240.29 785 1240.29 790.4 1218.94 795.8 1211.52 801.2 1202.24 806.6 1202.24 812 1183.68 817.4 1176.72 822.8 1170.69 828.2 1116.86 833.6 1134.96 839 1098.77 844.4 1104.34 849.8 1093.2 855.2 1089.02 860.6 1071.86 866 1102.48 871.4 1113.15 876.8 1108.98 882.2 1151.2 887.6 1194.82 893 1237.97 898.4 1279.73 903.8 1325.2 909.2 1368.35 914.6 1408.72 920 1370.21 925.4 1373.92 930.8 1359.54 936.2 1355.82 941.6 1331.23 947 1334.02 952.4 1303.39 957.8 1260.24 963.2 1216.16 968.6 1228.69 974 1219.41 979.4 1229.15 984.8 1246.32 990.2 1243.07 995.6 1289.94 1001 1247.25 1006.4 1218.48 1011.8 1216.62 1017.2 1233.79 1022.6 1226.37 1028 1222.19 1033.4 1205.02 1038.8 1211.06 1044.2 1173.01 1049.6 1148.88 1055 1156.77 1060.4 1184.14 1065.8 1184.14 1071.2 1205.95 1076.6 1211.06 1082 1234.72 1087.4 1234.72 1092.8 1232.86 1098.2 1238.43 1103.6 1228.22 1109 1246.32 1114.4 1231.47 1119.8 1282.05 1125.2 1323.34 1130.6 1340.05 1136 1341.44 1141.4 1355.36 1146.8 1343.3 1152.2 1379.49 1157.6 1380.42 1163 1401.3 1168.4 1409.65 1173.8 1386.91 1179.2 1362.32 1184.6 1359.54 1190 1334.48 1195.4 1363.25 1200.8 1328.91 1206.2 1300.14 1211.6 1312.67 1217 1306.18 1222.4 1299.22 1227.8 1278.34 1233.2 1287.62 1238.6 1242.14 1244 1202.24 1249.4 1174.4 1254.8 1193.42 1260.2 1216.62 1265.6 1252.82 1271 1232.86 1276.4 1242.14 1281.8 1254.21 1287.2 1245.86 1292.6 1247.71 1298 1255.14 1303.4 1293.18 1308.8 1329.38 1314.2 1343.76 1319.6 1350.72 1325 1381.81 1330.4 1365.57 1335.8 1405.01 1341.2 1390.62 1346.6 1389.7 1352 1380.88 1357.4 1408.72 1362.8 1418 1368.2 1441.2 1373.6 1461.15 1379 1432.38 1384.4 1400.83 1389.8 1395.26 1395.2 1389.7 1400.6 1372.53 1406 1320.1 1411.4 1278.34 1416.8 1228.22 1422.2 1174.86 1427.6 1128.93 1433 1105.73 1438.4 1103.87 1443.8 1068.61 1449.2 1080.21 1454.6 1074.64 1460 1089.02 1465.4 1089.95 1470.8 1093.66 1476.2 1078.35 1481.6 1072.78 1487 1075.57 1492.4 1085.78 1497.8 1134.5 1503.2 1155.38 1508.6 1159.55 1514 1143.31" stroke="#011c66" stroke-width="2.9"/>
<path d="M1603 986.9H1664.4" stroke="#111111" stroke-width="4" fill="none"/>
<text class="lg" x="1688" y="1014.6">E. histolytica</text>
<path d="M1603 1032H1664.4" stroke="#dc4444" stroke-width="4" fill="none"/>
<text class="lg" x="1688" y="1060.8">E. nuttalli</text>
<path d="M1603 1080.1H1664.4" stroke="#00b0f0" stroke-width="4" fill="none"/>
<text class="lg" x="1688" y="1108">E. dispar</text>
<path d="M1603 1132.6H1664.4" stroke="#7d55a8" stroke-width="4" fill="none"/>
<text class="lg" x="1688" y="1160.5">E. moshkovskii</text>
<path d="M1603 1185.1H1664.4" stroke="#ff8a2a" stroke-width="4" fill="none"/>
<text class="lg" x="1688" y="1213">E. invadens</text>
</g>
</svg></body></html>
